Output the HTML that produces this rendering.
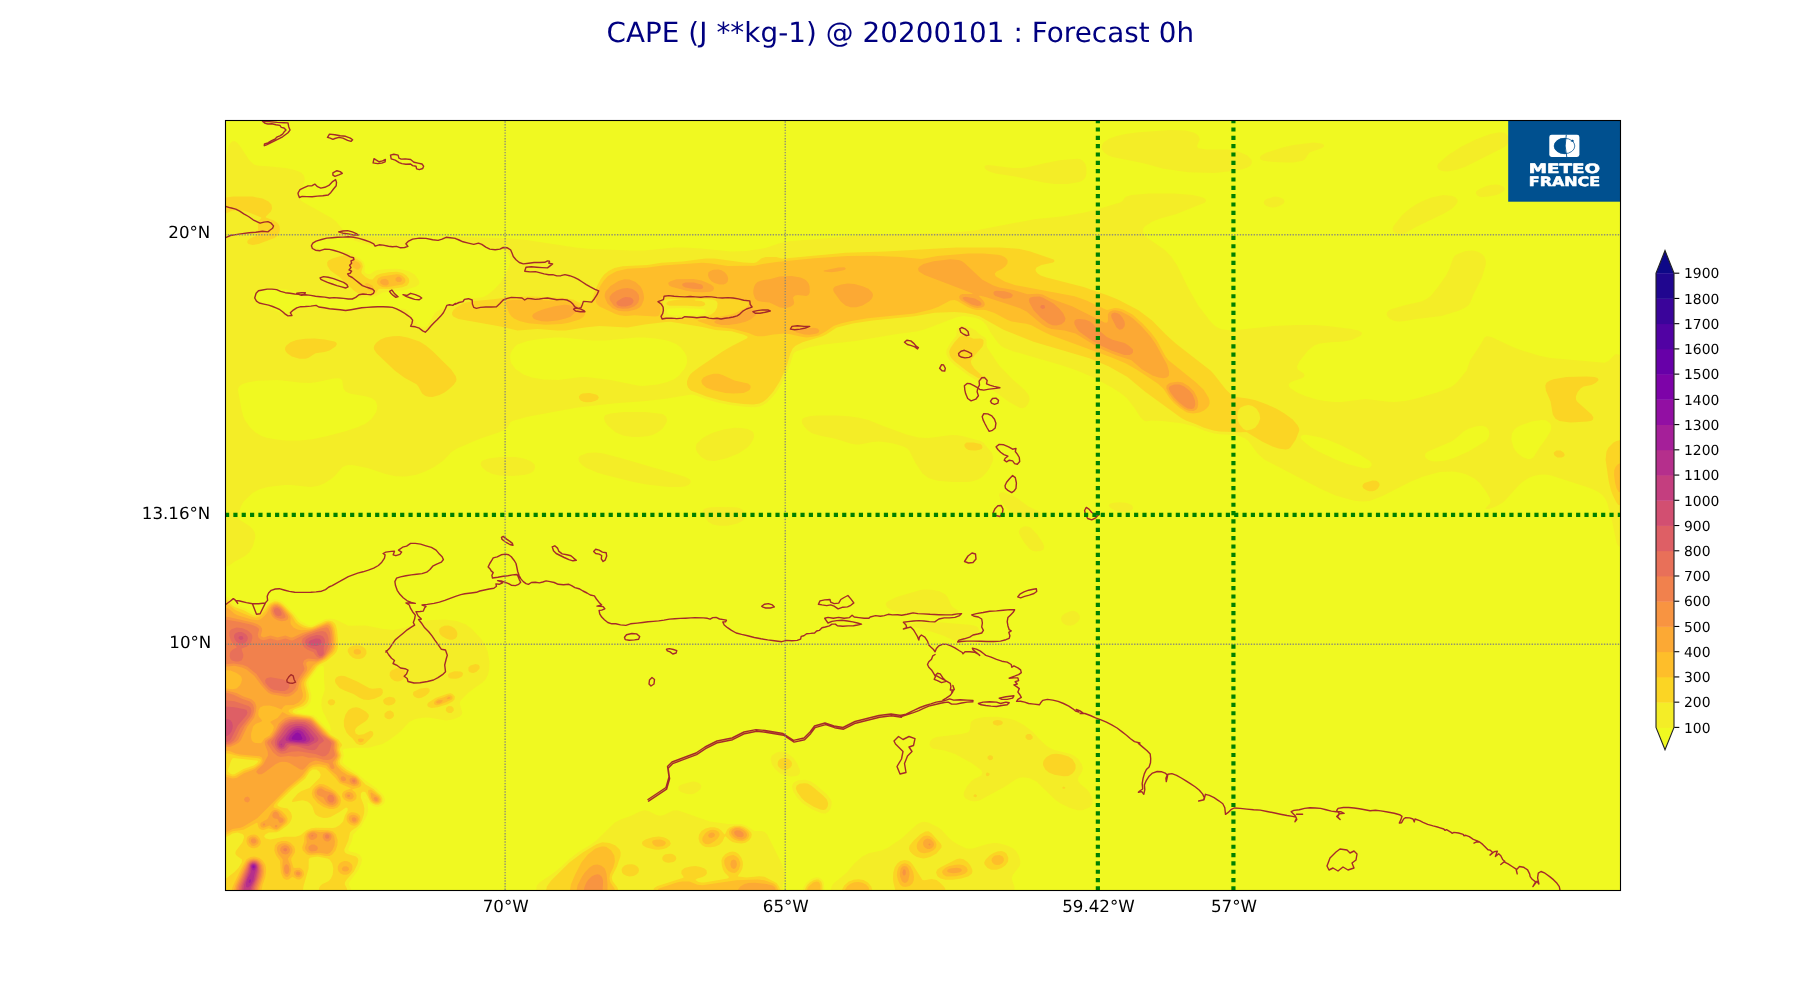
<!DOCTYPE html>
<html lang="en"><head><meta charset="utf-8"><title>CAPE Forecast</title>
<style>
html,body{margin:0;padding:0;background:#fff;}
body{width:1800px;height:1000px;overflow:hidden;}
svg{display:block;will-change:transform;}
text{font-family:"DejaVu Sans","Liberation Sans",sans-serif;fill:#000;text-rendering:geometricPrecision;}
.t12{font-size:16.67px;}
.t10{font-size:13.89px;}
.coast{fill:none;stroke:#a52a2a;stroke-width:1.4;stroke-linejoin:round;stroke-linecap:round;}
</style></head><body>
<svg width="1800" height="1000" viewBox="0 0 1800 1000">
<rect x="0" y="0" width="1800" height="1000" fill="#ffffff"/>
<text x="900.3" y="42" text-anchor="middle" style="font-size:27.78px;fill:#000080;letter-spacing:0.075px">CAPE (J **kg-1) @ 20200101 : Forecast 0h</text>
<defs><clipPath id="ax"><rect x="225" y="120" width="1395" height="770"/></clipPath></defs>
<rect x="225" y="120" width="1395" height="770" fill="#f0f921"/>
<g clip-path="url(#ax)">
<g id="field">
<path fill="#f4ed27" fill-rule="evenodd" d="M1101.4,146.5 1103.5,142.6 1108.5,139.1 1116.5,136.1 1125.5,134.1 1138.5,132.2 1170.5,130.1 1185.5,130.6 1193.5,132.4 1196.5,134.1 1198.9,136.5 1199.8,139.5 1197.1,145.5 1197.5,147.3 1198.5,148.2 1206.5,149.4 1227.5,149.5 1236.5,150.8 1247.5,155.6 1251.3,159.5 1252.0,162.5 1250.5,165.5 1247.5,167.6 1242.5,169.2 1232.5,171.0 1214.5,173.0 1188.5,172.3 1163.5,168.7 1143.5,163.2 1112.5,157.0 1108.5,155.4 1104.2,152.5 1101.8,149.5ZM1508.0,136.5 1508.8,139.5 1508.4,142.5 1506.5,145.5 1504.5,147.1 1465.5,166.7 1456.5,169.8 1447.5,171.4 1443.5,171.3 1440.5,170.5 1438.5,169.3 1437.5,167.7 1437.4,165.5 1438.5,163.5 1447.5,155.4 1461.5,146.4 1475.6,139.5 1490.5,134.1 1499.5,132.2 1504.5,132.8 1506.5,134.3ZM224.5,155.7 225.5,155.7 226.5,154.3 228.4,146.5 230.0,143.5 232.5,141.3 234.5,141.1 236.9,142.5 239.5,145.3 249.5,160.6 254.5,164.7 258.5,165.8 267.5,166.2 285.5,168.1 295.5,170.2 301.1,172.5 304.0,175.5 304.8,179.5 303.5,184.5 299.3,195.5 299.2,197.5 300.0,199.5 302.5,201.7 332.4,218.5 336.0,221.5 342.5,229.2 347.5,232.6 353.5,234.3 371.5,236.4 384.5,237.0 409.5,236.5 415.5,237.5 415.5,238.5 406.5,245.2 402.5,246.5 396.5,247.4 384.5,247.4 374.5,246.2 363.5,243.6 351.5,239.6 335.5,237.6 323.5,238.1 319.5,238.8 315.5,240.5 314.4,241.5 313.5,243.5 314.4,246.5 317.5,248.5 334.5,250.3 348.5,252.4 351.5,253.5 355.5,256.3 360.5,258.9 363.1,261.5 364.9,265.5 364.4,271.5 365.5,272.9 367.5,273.9 370.5,273.9 374.5,271.0 377.5,270.0 387.5,268.9 395.5,268.7 401.5,269.3 409.5,271.4 414.6,274.5 419.0,280.5 419.4,282.5 418.8,284.5 415.5,286.7 404.5,290.0 382.5,292.6 376.5,295.9 373.5,296.8 353.5,298.5 344.5,298.4 320.5,296.3 286.5,289.6 276.5,289.0 262.5,289.6 256.5,290.8 253.5,293.0 252.9,294.5 253.1,296.5 255.7,300.5 260.5,303.5 277.6,311.5 284.5,313.6 287.5,313.0 292.0,309.5 294.5,308.2 304.5,306.6 316.5,306.7 341.5,309.5 350.5,309.4 361.5,307.5 371.5,306.5 378.5,306.6 389.5,307.9 403.5,308.7 405.8,309.5 408.1,311.5 414.9,321.5 417.5,324.5 420.5,326.5 423.5,327.6 425.5,327.3 427.5,325.9 434.5,313.8 436.5,311.8 439.5,310.0 448.5,306.0 454.7,302.5 460.5,300.2 465.5,299.1 481.5,297.4 484.6,296.5 487.9,294.5 493.5,290.1 499.8,283.5 505.5,274.4 509.2,266.5 510.3,261.5 509.9,257.5 507.5,252.6 504.5,250.0 498.5,248.4 489.5,247.9 484.5,247.0 454.5,238.5 453.5,237.5 460.5,236.8 510.5,238.6 526.5,240.1 575.5,247.4 590.5,248.9 631.5,250.5 644.5,250.5 674.5,247.6 683.5,247.5 701.5,248.6 730.5,251.4 746.5,250.9 765.5,247.9 779.5,243.2 790.5,241.1 821.5,238.8 860.5,235.1 939.5,232.9 961.5,231.9 976.5,230.2 1034.5,219.2 1063.5,216.2 1084.5,212.6 1097.5,209.3 1120.1,202.5 1122.5,201.1 1124.5,198.0 1126.2,196.5 1131.5,195.1 1149.5,193.5 1173.5,193.5 1192.5,195.1 1199.5,196.4 1203.5,197.7 1205.9,199.5 1205.8,201.5 1204.5,202.7 1176.5,214.0 1159.5,218.8 1152.5,221.6 1144.7,226.5 1143.3,228.5 1142.9,231.5 1144.0,234.5 1146.5,237.3 1164.5,249.7 1171.3,256.5 1177.2,265.5 1187.5,286.4 1198.2,305.5 1210.5,321.5 1214.5,325.6 1217.5,327.6 1221.5,329.2 1231.5,330.5 1272.5,326.1 1297.5,325.0 1314.5,325.1 1329.5,326.2 1351.5,328.9 1358.6,330.5 1361.8,332.5 1361.7,334.5 1360.5,335.8 1351.5,339.9 1343.5,341.4 1330.5,342.2 1319.5,343.5 1314.3,345.5 1308.0,350.5 1299.3,361.5 1297.0,366.5 1297.7,369.5 1303.8,373.5 1304.5,375.5 1304.2,376.5 1302.5,377.9 1291.5,381.8 1289.5,383.2 1288.7,384.5 1288.9,386.5 1290.8,388.5 1297.5,392.7 1304.5,395.7 1316.5,399.4 1324.5,400.9 1334.5,401.9 1341.5,401.9 1365.5,399.1 1388.5,401.8 1394.5,402.0 1404.5,401.0 1413.5,399.3 1436.5,392.7 1450.5,387.2 1454.5,384.5 1457.6,381.5 1466.6,370.5 1470.0,360.5 1480.5,344.5 1484.5,337.4 1486.5,336.3 1489.5,336.5 1492.5,337.4 1511.7,346.5 1520.5,350.0 1539.5,355.7 1550.5,357.9 1604.5,362.7 1608.5,361.0 1614.9,354.5 1616.5,354.1 1620.5,355.1 1620.5,546.5 1618.5,546.2 1616.8,543.5 1611.7,519.5 1607.4,503.5 1605.6,499.5 1602.5,495.3 1598.5,492.1 1590.5,488.3 1550.5,475.3 1544.5,474.6 1539.5,474.8 1533.5,476.0 1528.5,478.1 1523.5,481.2 1519.5,484.4 1505.5,500.1 1502.5,502.8 1495.5,506.8 1488.5,509.0 1486.5,509.1 1485.3,508.5 1489.9,503.5 1490.5,501.5 1490.0,498.5 1485.5,490.8 1479.5,482.8 1474.5,478.5 1466.5,474.5 1461.5,473.0 1453.5,471.6 1439.5,472.0 1422.5,476.7 1410.5,481.8 1382.5,495.9 1369.5,500.9 1362.5,501.5 1354.5,500.7 1335.5,495.5 1320.5,488.7 1264.5,459.7 1257.5,453.5 1248.5,441.1 1245.1,438.5 1240.9,436.5 1234.5,434.9 1219.5,434.3 1213.5,433.3 1204.5,430.8 1194.5,426.5 1181.5,423.2 1162.5,421.1 1151.5,420.6 1146.5,421.3 1144.5,420.9 1140.5,417.5 1134.8,408.5 1127.2,398.5 1120.5,392.9 1111.5,387.2 1092.5,377.0 1075.5,370.1 1061.5,365.3 1013.5,351.4 1004.5,348.0 1000.6,345.5 998.5,343.4 991.2,333.5 985.9,324.5 983.2,321.5 979.9,319.5 974.5,317.5 963.5,316.0 956.5,317.2 932.5,326.6 923.5,329.7 916.5,331.5 895.5,334.3 855.5,340.9 823.5,344.4 810.5,347.0 796.5,351.3 794.5,352.4 793.0,354.5 790.1,364.5 787.0,372.5 781.7,383.5 776.1,392.5 770.1,399.5 766.5,402.9 762.5,405.2 758.5,406.7 754.5,407.3 744.5,406.8 730.5,405.1 716.5,402.2 705.5,399.0 695.5,395.3 691.5,394.6 665.5,398.7 643.5,401.3 615.5,403.2 577.5,407.4 527.5,416.8 512.5,420.9 510.2,422.5 507.5,427.6 504.5,430.1 498.5,432.6 480.5,438.5 457.5,448.3 451.5,452.0 443.5,460.6 434.5,466.8 425.3,471.5 415.5,474.9 405.5,476.4 395.5,476.2 385.5,473.9 367.5,468.0 353.5,465.3 348.5,465.1 345.5,465.7 342.5,467.1 335.2,475.5 331.5,478.8 324.2,483.5 318.5,485.7 310.5,486.9 291.5,485.1 284.5,485.1 267.5,487.0 259.5,489.3 252.5,493.0 243.7,501.5 240.9,506.5 237.9,515.5 237.9,517.5 239.2,519.5 249.5,526.1 252.1,528.5 254.2,531.5 255.2,534.5 255.3,537.5 252.8,546.5 249.5,551.9 245.5,555.8 234.5,561.7 228.5,566.0 224.5,566.6ZM377.2,405.5 375.5,400.8 371.5,398.0 365.5,396.3 350.5,393.7 345.5,391.6 343.4,388.5 342.2,380.5 340.5,378.8 338.5,378.2 333.5,378.4 317.5,382.1 310.5,383.0 301.5,382.8 277.5,380.1 257.5,380.7 247.5,382.6 242.5,384.1 239.1,386.5 237.9,389.5 241.5,409.5 243.3,416.5 245.2,420.5 250.1,427.5 255.6,432.5 261.5,436.0 267.5,437.9 278.5,439.8 286.5,440.5 299.5,440.5 312.5,439.2 327.5,436.0 344.5,431.5 357.5,427.3 365.8,423.5 371.5,418.9 375.9,412.5 376.9,409.5ZM510.1,356.5 510.4,360.5 511.4,363.5 515.5,369.1 523.6,374.5 531.8,377.5 543.5,379.4 558.5,380.0 580.5,377.1 586.5,377.1 610.5,380.1 637.5,385.4 642.5,386.0 657.5,384.5 667.5,382.1 674.5,378.9 679.0,375.5 684.5,368.8 686.5,364.6 687.2,360.5 686.6,356.5 684.7,352.5 680.5,347.3 676.5,344.3 669.5,341.3 664.5,340.0 655.5,338.4 644.5,337.5 636.5,337.6 605.5,340.5 592.5,340.4 562.5,337.5 554.5,337.6 539.5,338.9 527.5,341.0 517.5,344.6 514.5,347.0 512.0,350.5 510.5,353.5ZM666.8,311.5 667.7,313.5 669.5,314.7 672.9,315.5 691.5,315.6 700.5,314.8 704.5,313.5 705.8,311.5 704.6,309.5 702.5,308.9 681.5,307.9 668.8,308.5 667.3,309.5ZM1300.8,436.5 1300.6,437.5 1301.5,439.5 1310.5,447.0 1318.5,451.5 1335.5,459.6 1346.5,463.7 1363.5,468.2 1368.5,468.1 1370.5,467.1 1371.6,465.5 1371.6,463.5 1370.3,461.5 1361.2,455.5 1341.5,445.5 1328.5,439.9 1320.5,437.4 1306.5,434.8 1302.5,434.9ZM1488.8,430.5 1486.5,427.3 1482.5,425.7 1476.5,426.3 1468.5,428.7 1463.6,431.5 1456.5,437.9 1451.5,441.4 1427.5,451.8 1425.5,453.5 1424.9,456.5 1426.4,458.5 1428.5,459.9 1431.5,460.9 1435.5,461.5 1444.5,460.7 1454.5,457.7 1468.4,451.5 1485.5,441.2 1487.5,439.2 1488.9,436.5 1489.4,433.5ZM1547.5,421.2 1545.5,420.3 1541.5,420.0 1532.5,421.3 1521.5,425.1 1517.5,427.1 1514.4,429.5 1511.9,433.5 1511.3,439.5 1513.6,447.5 1515.3,450.5 1518.0,453.5 1522.5,456.9 1527.5,459.1 1530.5,459.1 1533.3,457.5 1539.5,447.5 1546.8,437.5 1550.8,430.5 1551.3,427.5 1551.1,425.5 1550.1,423.5ZM1324.1,145.5 1323.5,146.9 1321.5,148.2 1309.5,152.5 1304.7,159.5 1302.5,160.7 1293.5,162.4 1285.5,162.5 1268.5,161.6 1262.5,160.6 1260.6,159.5 1260.0,158.5 1260.3,156.5 1261.2,155.5 1266.5,152.6 1283.5,147.3 1293.5,145.0 1313.5,142.5 1321.5,143.6 1323.5,144.5ZM1086.4,173.5 1085.8,176.5 1084.5,178.7 1082.5,180.6 1079.5,182.1 1067.5,183.9 1054.5,183.9 1043.5,182.6 1018.5,177.2 995.5,173.6 990.5,171.9 986.5,169.9 984.9,168.5 984.4,166.5 985.5,165.5 988.5,165.1 1012.5,167.9 1021.5,167.9 1029.5,166.8 1043.5,163.4 1059.5,160.3 1077.5,158.7 1080.5,159.3 1082.5,160.4 1085.1,163.5 1086.4,167.5ZM1475.9,193.5 1476.2,191.5 1478.5,189.4 1486.5,186.1 1490.5,185.1 1495.5,184.6 1499.5,185.1 1503.0,186.5 1504.9,188.5 1504.5,190.6 1500.5,193.2 1496.5,194.9 1488.5,196.6 1482.5,197.1 1479.5,196.8 1477.2,195.5ZM1457.4,199.5 1457.6,201.5 1456.8,203.5 1453.5,207.2 1450.5,209.7 1443.5,213.7 1415.5,227.3 1405.5,233.0 1401.5,234.2 1398.5,234.1 1395.5,233.3 1393.2,231.5 1392.6,228.5 1393.5,225.9 1401.8,215.5 1408.5,209.4 1415.8,204.5 1421.5,201.5 1431.5,197.4 1443.5,195.1 1452.5,196.1 1455.5,197.4ZM1263.6,202.5 1264.5,200.5 1266.5,199.1 1274.5,196.6 1278.5,197.1 1282.5,198.5 1283.8,199.5 1284.6,201.5 1283.5,203.5 1280.5,205.5 1276.5,207.1 1273.5,207.4 1269.5,207.1 1266.5,205.9 1264.5,204.4ZM1484.2,256.5 1485.8,260.5 1485.8,264.5 1482.0,277.5 1473.5,294.5 1470.4,302.5 1468.5,305.3 1465.5,307.6 1458.5,310.7 1441.5,316.0 1416.5,318.9 1403.5,321.3 1397.5,321.5 1393.5,320.7 1389.5,318.5 1387.5,316.3 1386.7,314.5 1386.9,312.5 1388.5,310.7 1390.5,309.6 1403.5,305.4 1421.5,301.5 1426.5,299.1 1430.5,296.3 1438.5,286.3 1446.5,274.7 1449.5,268.5 1452.9,258.5 1454.5,256.1 1456.5,254.4 1465.5,251.1 1472.5,250.6 1476.5,251.2 1479.5,252.4 1482.5,254.5ZM958.5,326.8 960.5,325.9 963.5,325.9 970.5,327.8 975.5,330.3 979.8,334.5 985.5,337.9 986.6,340.5 986.5,345.5 987.2,347.5 999.1,365.5 1013.5,380.2 1024.2,389.5 1028.3,394.5 1029.5,397.5 1029.5,400.5 1027.7,404.5 1025.5,407.1 1022.5,408.3 1019.5,407.8 1008.5,401.6 994.6,391.5 985.5,383.0 977.5,380.9 968.5,375.6 954.5,365.1 949.8,360.5 946.8,355.5 946.3,352.5 946.7,349.5 950.8,342.5 956.5,335.5 956.9,329.5ZM603.9,418.5 604.3,416.5 605.5,415.1 610.5,413.4 623.5,412.0 645.5,412.0 662.5,414.1 666.0,416.5 667.1,419.5 666.5,422.5 663.4,427.5 660.5,430.6 656.5,433.1 652.5,434.9 648.5,435.9 639.5,436.9 632.5,437.0 623.5,435.7 615.5,432.3 607.6,425.5 604.9,421.5ZM801.7,420.5 802.9,418.5 804.5,417.4 810.5,416.1 817.5,415.5 836.5,415.5 848.5,416.2 857.5,417.5 868.5,420.1 882.5,425.8 906.5,434.5 918.5,437.5 928.5,437.9 951.5,435.1 957.5,435.2 962.5,436.1 980.5,441.0 983.2,442.5 991.6,452.5 993.1,456.5 993.0,460.5 989.9,467.5 986.5,472.4 981.5,477.5 977.5,479.7 971.5,481.4 966.5,482.0 952.5,482.0 937.5,480.7 928.5,477.9 922.5,473.5 915.2,462.5 909.5,451.0 907.2,448.5 903.5,446.4 892.5,443.3 879.5,441.6 872.5,441.9 859.5,444.4 855.5,444.4 850.5,443.6 833.5,438.3 822.5,436.2 812.5,433.4 808.5,431.0 804.9,427.5 802.2,423.5ZM753.8,433.5 754.1,436.5 753.2,439.5 750.5,444.1 747.5,447.4 738.5,453.5 726.5,458.2 714.5,460.9 707.5,460.4 703.5,458.6 700.8,456.5 697.4,452.5 696.0,449.5 695.8,446.5 696.8,443.5 702.5,438.3 706.5,435.8 713.5,432.6 723.5,429.5 734.5,427.7 741.5,427.9 747.5,429.1 750.5,430.2 752.5,431.6ZM578.3,458.5 579.4,456.5 580.7,455.5 587.5,453.1 595.5,452.5 602.5,453.3 621.5,458.2 682.5,475.9 686.6,477.5 689.5,479.3 690.5,480.5 690.7,482.5 688.5,485.1 684.5,486.4 680.5,486.9 668.5,487.0 646.5,484.4 633.5,481.9 606.5,475.3 597.5,472.8 586.5,468.1 582.5,465.5 579.1,461.5ZM480.7,463.5 481.5,461.6 482.8,460.5 488.5,458.6 499.5,457.1 515.5,457.1 523.5,458.4 530.5,461.1 534.5,464.5 535.1,467.5 534.0,470.5 532.5,472.1 529.5,473.6 525.5,474.7 512.5,476.0 499.5,475.4 492.5,474.1 486.5,471.3 482.3,467.5 481.1,465.5ZM999.4,493.5 1000.5,492.4 1003.5,492.2 1013.5,496.1 1019.1,499.5 1028.5,506.5 1038.9,511.5 1040.5,513.5 1040.4,515.5 1038.9,517.5 1036.5,518.9 1030.5,519.3 1022.9,517.5 1012.5,512.9 1007.5,509.5 1004.0,505.5 1000.0,498.5 999.1,495.5ZM1108.7,505.5 1109.5,504.0 1112.5,502.9 1118.5,502.2 1125.5,502.7 1128.5,503.5 1131.5,505.1 1132.7,506.5 1133.1,508.5 1131.5,510.2 1128.5,511.2 1124.5,511.9 1119.5,511.8 1115.5,510.7 1111.5,508.6 1109.5,507.0ZM702.5,511.5 703.5,509.6 704.5,508.8 708.5,507.6 716.5,507.0 735.5,507.2 739.5,508.1 742.5,509.7 744.6,512.5 745.2,516.5 744.6,518.5 743.0,520.5 737.5,523.5 727.5,525.8 719.5,525.8 712.9,524.5 708.5,521.9 703.6,515.5ZM1020.3,528.5 1023.5,526.6 1026.5,526.2 1029.5,527.0 1031.6,528.5 1037.3,534.5 1042.6,542.5 1044.3,546.5 1043.5,549.5 1040.5,551.1 1035.5,551.4 1032.5,550.7 1029.1,548.5 1024.5,542.9 1019.5,534.5 1018.8,531.5ZM885.7,604.5 886.4,602.5 887.5,601.5 896.5,597.1 920.5,590.1 924.5,589.6 931.5,589.7 939.5,591.3 945.5,594.5 947.9,597.5 951.3,605.5 953.4,607.5 957.5,610.1 958.5,611.5 958.3,612.5 956.5,613.9 947.5,615.5 938.5,615.4 903.5,613.3 896.5,612.1 891.5,610.0 887.3,607.5ZM224.5,596.6 226.5,596.7 228.5,597.8 234.8,604.5 244.5,607.9 252.5,612.6 255.5,613.5 257.5,613.0 260.0,611.5 266.8,603.5 270.5,600.6 274.5,599.2 278.5,599.8 282.5,601.8 286.5,605.3 294.4,613.5 300.5,620.9 307.0,624.5 310.5,625.4 314.4,624.5 325.5,619.1 330.5,618.6 335.5,619.6 348.5,625.7 365.5,625.6 383.5,628.9 393.5,629.9 405.5,627.6 419.5,622.1 429.5,620.2 444.5,619.5 456.5,620.9 465.5,624.3 471.5,628.4 480.8,638.5 485.8,646.5 488.0,652.5 489.4,661.5 489.3,669.5 487.7,675.5 485.5,679.4 482.6,682.5 474.5,688.0 467.5,693.5 460.7,700.5 459.9,702.5 459.8,704.5 462.3,712.5 461.7,714.5 459.5,716.8 453.5,719.3 446.5,720.4 428.5,717.6 422.5,717.7 415.5,719.0 409.5,721.8 401.4,730.5 396.5,734.7 388.5,740.5 382.5,743.9 368.5,747.8 355.5,747.7 345.5,748.6 343.1,749.5 342.7,750.5 343.9,755.5 342.3,761.5 343.3,763.5 346.8,766.5 358.5,774.2 365.5,780.5 376.5,788.3 382.7,794.5 384.0,796.5 385.0,799.5 384.5,802.5 382.9,804.5 380.5,806.1 377.5,807.0 373.5,806.2 367.5,802.3 368.2,810.5 367.0,815.5 361.1,826.5 353.2,834.5 351.7,841.5 348.4,848.5 348.5,850.4 350.0,851.5 356.5,853.0 359.3,854.5 361.6,857.5 362.0,860.5 360.9,864.5 358.0,870.5 349.0,882.5 348.7,884.5 350.8,888.5 351.0,890.5 224.5,890.5ZM322.5,665.4 320.0,666.5 317.5,669.0 310.5,678.5 308.5,682.1 308.5,685.1 311.3,694.5 311.2,699.5 310.2,702.5 308.1,705.5 305.5,707.7 302.5,709.3 297.8,710.5 296.7,711.5 297.9,712.5 301.7,713.5 313.5,715.2 316.4,717.5 327.5,728.9 330.5,731.1 331.2,730.5 330.0,725.5 322.8,711.5 321.3,705.5 321.7,699.5 324.8,689.5 324.1,680.5 323.9,667.5 323.5,666.0ZM364.5,796.6 364.5,797.7 365.5,799.2 365.5,797.3ZM1074.5,611.0 1077.5,612.5 1079.7,615.5 1079.9,618.5 1078.1,621.5 1074.5,624.5 1070.5,625.8 1066.5,625.3 1063.3,623.5 1061.7,621.5 1061.1,619.5 1061.2,617.5 1062.3,615.5 1064.5,613.8 1069.5,611.4 1072.5,610.8ZM910.2,624.5 912.5,623.4 923.5,622.5 941.5,622.5 969.5,624.8 975.5,625.9 978.1,627.5 979.1,630.5 977.5,634.1 973.5,637.2 962.5,640.6 956.5,640.9 953.5,640.2 943.5,635.8 932.5,632.1 912.7,626.5 910.6,625.5ZM929.8,742.5 930.8,740.5 932.5,738.8 936.5,737.0 961.5,734.0 967.5,732.6 968.9,731.5 970.0,729.5 970.5,723.5 971.3,721.5 973.5,719.7 977.5,718.2 985.5,717.1 997.5,716.7 1010.5,719.0 1015.5,720.5 1023.5,724.8 1032.5,731.5 1039.8,739.5 1045.5,744.9 1049.5,747.7 1053.5,749.7 1070.5,753.9 1074.5,755.9 1078.5,759.3 1081.9,764.5 1082.9,768.5 1082.1,771.5 1078.2,777.5 1078.0,780.5 1079.9,783.5 1087.0,789.5 1089.4,792.5 1092.2,798.5 1092.7,801.5 1092.4,803.5 1091.4,805.5 1089.3,807.5 1082.5,810.2 1077.5,810.2 1069.5,807.8 1060.7,803.5 1055.5,799.9 1036.4,781.5 1029.5,778.3 1023.5,777.3 1020.5,777.6 1016.5,779.1 1005.2,786.5 979.5,800.4 974.5,801.6 969.5,800.6 965.7,798.5 964.0,796.5 963.6,794.5 964.2,791.5 966.9,786.5 971.5,780.9 974.5,778.7 980.5,776.0 981.5,775.0 982.2,772.5 981.6,770.5 971.5,763.0 954.5,753.8 944.5,750.4 933.5,748.7 931.5,747.8 929.7,745.5ZM772.0,755.5 776.5,752.6 780.5,751.6 784.5,752.0 788.5,754.0 793.5,758.1 797.2,763.5 799.7,769.5 800.0,771.5 799.5,773.8 798.5,775.0 796.5,776.0 790.5,776.5 784.5,775.4 779.5,772.9 774.5,768.6 772.0,764.5 770.7,759.5 771.0,757.5ZM793.1,783.5 795.5,781.6 798.5,780.3 805.5,779.7 810.5,781.2 816.5,785.2 826.5,793.9 830.9,799.5 831.7,802.5 831.5,805.5 830.6,808.5 828.8,811.5 825.5,813.6 821.5,813.2 811.5,809.0 802.5,803.2 797.1,797.5 793.3,791.5 792.0,786.5ZM678.2,788.5 678.7,786.5 681.5,784.4 692.5,781.6 695.5,781.7 698.5,782.8 700.7,784.5 701.4,786.5 700.5,788.9 697.9,791.5 694.5,793.5 691.5,794.3 687.5,794.1 681.5,792.3 679.0,790.5ZM536.9,885.5 539.5,882.5 554.3,872.5 562.6,865.5 568.5,859.7 578.5,852.1 590.9,844.5 596.3,840.5 614.5,822.7 620.5,819.4 630.5,815.9 640.5,811.2 644.5,810.3 648.5,811.0 656.5,814.9 660.5,815.7 664.5,814.7 672.5,810.8 675.5,810.3 678.5,810.5 709.7,821.5 727.5,823.9 741.5,824.0 746.5,825.8 754.5,830.9 761.5,831.1 764.5,831.8 767.2,834.5 781.7,863.5 783.5,868.5 785.0,876.5 784.6,879.5 782.6,885.5 783.5,890.5 536.1,890.5ZM831.6,886.5 833.6,883.5 846.5,872.7 854.3,863.5 861.5,856.9 868.5,853.3 881.5,850.4 887.5,847.9 901.5,838.5 916.5,824.8 920.5,822.6 923.5,821.8 928.5,822.6 938.5,827.6 941.5,829.7 948.5,837.5 953.5,841.7 958.5,844.7 966.5,848.4 969.5,848.8 973.5,848.3 986.5,844.3 993.5,843.1 998.5,843.3 1006.5,845.3 1012.5,848.1 1015.6,850.5 1018.8,855.5 1020.2,860.5 1020.3,863.5 1019.4,866.5 1013.1,874.5 1011.8,877.5 1012.2,880.5 1014.4,886.5 1014.5,890.5 830.9,890.5ZM823.8,882.5 824.4,890.5 802.9,890.5 803.4,887.5 805.9,883.5 809.5,880.3 813.5,878.0 816.5,877.3 819.5,877.8 822.0,879.5Z"/>
<path fill="#fbd524" fill-rule="evenodd" d="M224.5,197.7 233.5,196.5 252.5,196.6 262.5,198.5 268.5,201.4 271.4,204.5 272.1,208.5 270.9,211.5 265.8,216.5 265.8,217.5 273.9,220.5 276.9,222.5 278.7,224.5 279.6,226.5 279.9,229.5 279.4,232.5 277.8,235.5 274.5,238.0 258.5,244.1 252.5,245.0 248.5,244.1 247.2,242.5 247.6,240.5 250.0,238.5 255.5,236.0 257.7,233.5 258.1,231.5 257.9,222.5 259.0,220.5 261.1,218.5 261.4,217.5 246.5,211.5 241.5,210.2 232.5,210.5 226.5,213.2 224.5,213.4ZM1299.3,430.5 1295.8,439.5 1290.4,447.5 1288.5,449.0 1285.5,449.4 1278.5,448.4 1272.5,446.4 1262.5,441.7 1246.5,432.0 1240.5,432.2 1219.3,431.5 1213.5,430.5 1203.5,427.5 1195.5,423.9 1185.9,420.5 1180.6,417.5 1144.5,391.3 1127.5,377.1 1108.5,366.3 1089.5,358.3 1033.5,341.8 1003.5,329.7 979.5,316.3 972.5,314.2 964.5,312.7 954.5,312.0 934.5,312.7 914.5,316.3 872.4,320.5 852.7,323.5 836.8,327.5 826.5,334.2 822.5,336.2 802.5,342.3 795.5,345.8 792.7,348.5 790.3,353.5 787.5,363.5 784.5,371.3 779.5,381.8 773.4,391.5 767.5,398.3 763.6,401.5 759.5,403.5 753.5,404.5 743.5,404.0 731.5,402.5 721.2,400.5 706.6,396.5 690.9,390.5 688.1,387.5 687.0,384.5 687.0,381.5 688.4,377.5 690.2,374.5 692.5,372.2 699.5,366.9 722.5,351.6 731.5,346.3 746.7,338.5 747.6,337.5 747.6,336.5 743.1,334.5 731.5,331.3 715.5,330.1 702.5,327.1 670.5,321.8 665.5,322.0 644.5,324.6 627.5,327.4 599.5,326.0 586.5,327.3 565.5,330.4 557.5,330.4 537.5,329.0 517.5,330.4 500.5,326.5 458.5,319.0 453.3,316.5 452.1,314.5 452.1,312.5 453.5,309.9 456.2,307.5 462.5,303.8 466.1,302.5 472.5,301.3 493.5,299.3 511.5,296.7 532.5,296.6 564.5,298.0 573.5,299.8 581.5,303.8 585.5,304.0 589.5,302.1 592.3,299.5 594.6,291.5 598.3,283.5 601.1,278.5 604.2,274.5 608.5,271.1 614.5,268.1 622.5,266.2 647.5,264.9 661.5,262.8 682.7,261.5 705.5,258.5 714.5,258.6 743.5,262.6 753.5,262.9 756.5,262.2 761.5,258.3 765.5,257.1 776.5,257.1 781.4,258.5 784.5,258.6 845.5,252.7 885.5,251.4 956.5,247.5 999.5,247.5 1018.5,248.8 1029.5,251.2 1053.6,259.5 1054.4,260.5 1054.3,261.5 1053.1,262.5 1041.5,265.1 1036.5,267.5 1035.5,269.5 1036.0,271.5 1037.7,273.5 1040.7,275.5 1046.5,277.6 1083.5,287.0 1106.5,295.0 1117.9,299.5 1138.5,310.2 1152.1,320.5 1165.8,334.5 1175.7,343.5 1210.5,370.6 1213.3,373.5 1225.9,389.5 1231.1,394.5 1236.5,397.0 1247.5,398.4 1255.5,400.3 1266.5,404.2 1276.5,408.8 1284.5,413.5 1292.7,419.5 1297.7,425.5 1299.1,428.5ZM1248.5,405.1 1244.5,405.7 1240.5,407.6 1238.2,410.5 1237.2,414.5 1237.9,420.5 1239.6,424.5 1243.5,429.0 1246.5,430.5 1251.5,429.6 1255.3,427.5 1258.5,423.3 1260.2,418.5 1259.4,413.5 1256.5,408.7 1252.5,405.9ZM662.9,314.5 663.9,316.5 665.5,317.6 673.5,318.8 681.5,318.7 706.5,316.2 711.2,314.5 715.0,311.5 717.1,307.5 717.6,303.5 716.8,301.5 715.6,300.5 712.5,299.5 706.5,299.1 694.5,299.5 695.1,300.5 701.5,301.0 704.5,302.4 705.3,304.5 703.5,306.0 699.5,306.4 687.5,305.7 669.5,305.7 667.5,305.1 666.6,304.5 666.3,303.5 666.8,302.5 668.5,301.3 673.5,300.3 683.5,299.5 671.5,298.9 665.5,299.4 663.5,300.3 662.8,301.5 663.3,306.5ZM327.1,262.5 328.5,260.4 332.5,258.5 342.7,255.5 348.5,255.3 357.5,259.4 360.5,261.5 362.0,263.5 362.9,266.5 361.3,271.5 361.7,273.5 365.5,277.0 369.5,279.3 372.5,279.6 376.3,275.5 380.5,273.7 388.5,272.2 396.5,271.8 402.5,273.1 406.4,275.5 408.8,278.5 409.3,280.5 409.1,282.5 407.1,285.5 402.5,287.3 390.5,289.1 379.5,288.8 378.2,289.5 376.4,292.5 373.5,294.2 367.5,294.7 360.5,293.9 357.5,292.9 353.8,290.5 339.5,276.9 330.5,270.5 327.5,266.1ZM961.5,335.4 965.5,335.5 973.5,338.7 980.5,338.6 982.5,339.3 983.5,340.4 983.5,343.4 982.5,346.5 972.0,358.5 970.8,361.5 971.6,364.5 974.3,368.5 982.8,376.5 983.1,377.5 982.5,378.6 980.5,378.8 978.5,378.2 968.8,372.5 954.6,361.5 951.7,358.5 949.8,355.5 949.2,351.5 950.5,348.0 954.3,342.5 959.5,336.8ZM374.3,345.5 376.5,342.4 380.6,339.5 385.5,337.6 392.5,336.2 399.5,336.1 407.5,337.4 419.5,341.4 425.9,345.5 432.5,350.9 451.2,369.5 455.9,376.5 456.5,379.5 456.0,381.5 453.5,385.1 448.5,389.5 444.5,392.4 439.5,395.0 432.5,396.9 428.5,396.7 425.5,395.9 422.1,393.5 418.4,386.5 416.5,384.2 404.5,377.8 394.7,370.5 376.8,353.5 374.1,349.5 373.8,347.5ZM285.0,349.5 285.2,347.5 286.4,345.5 290.5,342.3 296.5,340.1 305.5,338.7 314.5,338.6 324.5,339.4 334.5,341.5 336.2,342.5 336.7,343.5 336.7,344.5 335.5,346.5 329.5,350.5 324.5,352.1 315.5,353.3 308.5,357.7 305.5,358.8 299.5,358.7 291.9,356.5 287.5,353.5 285.8,351.5ZM1546.5,382.8 1549.5,380.7 1553.5,379.3 1566.5,377.1 1586.5,376.5 1594.5,377.1 1597.5,378.1 1598.4,379.5 1598.3,380.5 1595.5,383.1 1591.5,384.9 1583.5,386.6 1580.5,388.5 1577.4,392.5 1575.9,396.5 1576.0,399.5 1577.0,401.5 1591.6,414.5 1593.4,417.5 1593.0,419.5 1591.5,420.7 1587.5,421.6 1570.5,422.5 1559.5,420.9 1555.5,418.8 1552.8,414.5 1550.6,401.5 1545.9,390.5 1545.3,385.5ZM578.9,396.5 580.4,394.5 582.5,393.6 589.5,393.0 596.0,394.5 597.7,395.5 598.9,397.5 597.8,399.5 595.5,400.7 591.5,401.9 586.5,402.3 583.5,401.8 580.8,400.5 579.2,398.5ZM1620.5,440.2 1620.5,505.3 1618.5,504.9 1616.5,502.4 1613.5,496.8 1611.0,490.5 1608.6,480.5 1605.6,459.5 1606.5,451.5 1608.5,447.4 1613.5,442.5 1616.5,440.9ZM964.4,444.5 966.5,442.5 973.5,442.4 980.5,444.1 982.0,445.5 982.5,447.5 981.5,448.9 979.5,449.8 975.5,450.4 970.5,450.3 968.5,449.9 966.1,448.5 964.6,446.5ZM1553.9,452.5 1556.5,450.5 1560.5,450.5 1563.5,452.5 1564.6,454.5 1564.5,455.5 1563.5,456.7 1561.5,457.6 1557.5,457.5 1554.5,455.5 1553.7,453.5ZM1379.4,483.5 1379.6,485.5 1377.8,488.5 1375.5,490.2 1372.5,491.2 1369.5,491.2 1366.5,490.3 1363.5,488.5 1362.4,486.5 1363.0,484.5 1364.5,483.1 1372.5,480.4 1376.5,480.8 1378.5,482.2ZM224.5,599.4 227.5,600.3 232.4,605.5 234.5,607.0 244.3,610.5 252.5,615.0 255.5,615.7 258.5,615.1 261.5,613.0 268.5,604.6 270.5,602.9 274.5,601.2 277.5,601.5 280.5,602.7 283.5,604.9 292.7,614.5 297.5,621.2 300.5,623.7 304.5,625.8 308.5,627.1 312.5,626.9 325.5,621.1 328.5,620.5 332.5,621.6 334.7,623.5 335.9,625.5 337.1,630.5 338.3,642.5 337.9,647.5 336.6,651.5 334.5,654.3 326.5,661.0 319.5,664.5 317.1,666.5 307.4,679.5 306.2,682.5 306.3,685.5 308.8,694.5 308.8,698.5 307.8,701.5 306.5,703.5 303.5,706.1 294.5,709.3 292.9,710.5 292.5,711.5 293.0,712.5 295.5,713.7 310.5,716.1 313.5,717.4 330.5,734.8 338.3,739.5 342.0,744.5 342.0,745.5 340.5,747.5 339.8,749.5 341.5,755.5 339.5,761.5 340.5,764.5 346.4,769.5 357.5,775.8 365.5,784.4 373.5,789.0 380.8,795.5 382.4,798.5 382.3,801.5 380.7,803.5 378.5,804.7 375.5,804.8 372.5,803.5 370.2,801.5 365.5,792.3 364.5,791.7 362.5,791.8 360.8,793.5 360.8,797.5 363.5,804.4 364.4,808.5 364.1,813.5 361.9,820.5 359.7,824.5 357.5,826.8 351.7,830.5 350.0,832.5 348.3,840.5 344.3,849.5 344.5,851.5 345.5,852.9 347.5,854.1 356.0,856.5 357.9,858.5 358.3,860.5 357.5,863.9 353.9,871.5 346.7,879.5 344.9,882.5 344.8,884.5 346.9,888.5 347.1,890.5 318.7,890.5 319.3,887.5 320.6,885.5 322.5,884.0 328.5,881.2 331.0,878.5 332.7,874.5 333.3,868.5 332.2,863.5 329.6,859.5 327.5,858.5 317.5,856.5 310.8,857.5 309.2,858.5 308.7,859.5 308.6,868.5 303.4,886.5 303.0,890.5 224.5,890.5 224.5,878.6 226.5,878.2 234.5,872.1 238.5,867.8 241.8,862.5 242.0,859.5 236.5,855.4 235.5,853.9 235.4,852.5 236.2,850.5 242.5,842.3 244.1,837.5 243.8,835.5 242.5,834.0 237.5,832.5 232.5,833.4 227.5,836.5 224.5,837.2ZM227.9,771.5 230.5,773.7 232.5,774.4 234.5,774.3 243.5,769.0 253.7,765.5 256.7,763.5 258.2,761.5 257.5,760.6 233.5,757.9 232.4,758.5 231.2,760.5 228.0,769.5ZM347.7,808.5 346.5,807.6 345.5,807.8 339.5,811.9 330.5,816.9 327.5,817.8 323.5,817.9 318.5,816.6 315.5,814.6 314.3,812.5 312.4,806.5 310.0,803.5 307.4,801.5 302.5,800.3 292.5,802.1 292.0,801.5 292.7,799.5 297.8,793.5 301.5,790.9 309.5,787.9 320.0,777.5 320.7,774.5 319.3,771.5 316.5,769.5 312.5,769.4 309.8,771.5 305.2,778.5 291.8,789.5 279.5,801.5 277.5,804.1 277.5,805.5 278.8,806.5 281.5,807.5 287.5,808.4 290.9,812.5 292.1,816.5 291.4,819.5 289.9,822.5 287.2,825.5 279.5,831.1 276.5,832.3 268.9,832.5 265.2,834.5 264.1,836.5 265.8,838.5 270.5,839.4 284.5,836.7 295.5,836.8 300.5,835.2 306.5,830.2 311.5,828.3 315.5,827.8 332.5,828.1 335.5,827.6 339.5,825.3 343.1,821.5 344.9,815.5 347.7,810.5ZM439.5,628.8 441.5,626.9 444.5,625.8 448.5,625.6 451.5,626.4 454.5,628.3 456.5,630.8 457.4,633.5 457.0,636.5 455.5,638.5 452.5,639.8 449.5,639.7 446.0,638.5 442.5,636.6 440.3,634.5 439.0,631.5ZM347.8,649.5 349.5,647.3 352.5,645.8 355.5,645.3 359.5,645.5 362.5,646.6 365.0,648.5 366.3,650.5 366.5,653.5 364.8,656.5 362.5,658.2 359.5,659.0 355.5,658.7 352.5,657.4 349.5,654.7 347.7,651.5ZM478.5,664.7 479.7,666.5 479.6,668.5 476.5,671.8 473.5,672.9 471.5,672.8 469.5,671.9 468.4,670.5 468.4,667.5 470.5,665.5 475.5,663.9ZM391.4,670.5 396.5,668.3 399.5,668.3 402.5,669.3 404.3,670.5 405.4,672.5 405.0,676.5 402.9,679.5 400.5,681.0 397.5,681.6 394.5,681.0 391.1,678.5 389.6,675.5 389.8,672.5ZM447.8,675.5 448.0,674.5 449.5,672.9 454.5,671.3 460.5,671.5 462.4,672.5 463.0,673.5 462.6,675.5 461.5,676.7 458.5,678.2 455.5,678.8 450.4,678.5 448.5,677.3ZM335.0,679.5 336.3,677.5 338.5,676.3 341.5,675.7 344.5,676.1 357.2,681.5 369.5,688.3 372.5,688.8 380.5,688.0 382.5,689.5 382.9,692.5 382.0,694.5 380.5,695.9 374.5,698.8 368.5,699.9 363.5,699.5 359.5,697.8 353.5,693.9 344.5,690.6 339.5,687.9 335.8,683.5 335.0,681.5ZM429.7,689.5 429.6,691.5 428.2,693.5 425.5,695.8 421.5,697.8 418.5,698.2 416.5,697.8 414.2,696.5 412.9,694.5 413.2,692.5 414.0,691.5 420.5,688.4 426.5,687.7 428.5,688.2ZM454.9,696.5 454.5,699.5 452.5,701.6 447.5,704.2 437.5,707.3 431.5,707.9 428.5,707.0 427.3,705.5 427.5,703.8 428.5,702.6 435.5,698.0 447.5,693.7 450.5,693.3 452.5,693.9ZM383.2,700.5 383.6,699.5 385.5,697.9 389.5,696.7 393.5,697.6 394.7,698.5 395.7,700.5 395.1,702.5 393.5,704.1 391.5,705.0 388.5,705.4 386.5,705.1 384.5,703.9 383.5,702.5ZM327.7,701.5 329.5,699.6 332.5,699.2 334.7,700.5 335.3,702.5 333.5,705.0 330.5,705.4 328.0,703.5ZM446.5,707.5 448.5,706.0 451.5,706.2 453.5,707.9 453.8,710.5 451.5,713.0 448.5,713.1 446.5,711.6 445.9,710.5 446.0,708.5ZM352.5,707.7 356.5,707.2 359.5,708.0 365.8,711.5 368.6,714.5 368.9,716.5 367.3,719.5 365.5,721.2 357.5,726.4 355.7,728.5 354.9,730.5 355.7,733.5 358.5,734.9 363.5,734.3 370.5,730.7 372.4,731.5 373.1,732.5 373.3,734.5 372.3,736.5 365.2,743.5 362.5,745.0 359.5,745.0 356.3,743.5 352.6,738.5 349.1,735.5 346.5,732.5 344.0,726.5 343.8,720.5 345.5,714.5 348.5,710.0ZM384.5,713.5 387.5,711.0 390.5,710.6 393.4,712.5 394.1,715.5 392.9,717.5 391.5,718.6 389.5,719.2 387.5,719.0 385.5,717.8 384.5,716.5ZM992.7,722.5 993.1,721.5 994.5,720.5 997.5,720.1 1000.6,720.5 1002.3,721.5 1002.8,722.5 1002.6,723.5 1001.5,724.8 997.5,725.8 993.6,724.5ZM1025.6,735.5 1027.5,733.9 1030.5,734.1 1032.7,736.5 1032.6,738.5 1030.5,740.0 1027.5,739.7 1025.5,737.7ZM1043.5,760.8 1046.5,757.1 1051.5,754.3 1056.5,753.7 1062.0,754.5 1068.4,756.5 1072.5,759.3 1075.5,764.5 1075.6,768.5 1074.5,771.0 1072.5,773.5 1068.5,775.9 1063.5,776.3 1054.5,774.7 1048.8,772.5 1045.3,769.5 1043.2,765.5 1043.0,763.5ZM987.7,756.5 989.5,755.2 991.5,755.4 992.8,756.5 993.1,758.5 991.5,760.1 989.5,760.3 987.5,758.5ZM778.0,761.5 779.5,759.6 781.5,758.4 784.5,757.7 786.5,758.0 789.5,759.5 791.3,761.5 792.0,763.5 791.7,765.5 790.4,767.5 787.5,769.3 785.5,769.8 782.5,769.4 780.5,768.5 778.4,766.5 777.6,764.5ZM987.5,772.4 989.5,773.5 989.6,774.5 989.1,775.5 987.5,776.2 986.5,775.9 985.8,774.5 986.5,772.8ZM796.5,785.7 799.5,783.8 804.5,783.2 807.5,783.6 811.5,785.8 823.1,795.5 826.8,799.5 828.2,803.5 827.7,806.5 826.5,808.5 825.4,809.5 823.5,810.0 820.3,809.5 813.2,806.5 805.2,801.5 801.5,798.0 797.5,792.5 795.8,788.5ZM1062.3,787.5 1063.5,786.6 1065.3,787.5 1065.0,788.5 1063.5,788.8 1062.6,788.5ZM973.5,795.5 974.3,794.5 975.5,794.2 977.0,795.5 976.8,796.5 975.5,797.3 973.6,796.5ZM751.8,834.5 751.2,837.5 748.9,840.5 745.5,842.7 741.5,843.6 736.5,843.1 732.5,841.9 729.5,840.1 725.5,836.2 724.5,837.1 722.5,841.6 719.7,844.5 715.5,846.5 710.5,847.3 705.5,847.0 702.5,845.6 699.7,842.5 698.5,838.5 699.1,834.5 701.5,831.0 705.5,828.4 710.5,827.2 714.5,827.2 718.5,828.4 721.3,830.5 724.5,834.4 725.5,833.5 727.3,829.5 729.5,827.5 734.5,825.7 740.5,825.7 744.5,827.1 748.3,829.5 751.1,832.5ZM928.5,831.3 931.5,833.3 940.6,843.5 941.6,845.5 941.5,847.5 936.5,853.5 930.5,856.8 926.5,858.1 923.5,858.4 920.5,858.1 916.5,856.8 912.9,854.5 910.1,851.5 908.9,848.5 909.6,845.5 913.7,840.5 920.5,834.3 925.5,831.4ZM641.9,843.5 642.5,841.5 645.5,839.4 652.5,837.2 658.5,836.6 663.5,837.2 666.5,838.4 669.5,840.6 670.8,843.5 669.9,845.5 666.5,847.9 663.5,849.1 658.5,849.8 654.5,849.4 646.5,847.5 643.0,845.5ZM619.6,849.5 620.7,852.5 620.4,856.5 617.0,866.5 612.5,875.2 611.8,877.5 612.5,880.9 617.4,887.5 618.2,890.5 546.1,890.5 546.9,886.5 551.2,880.5 569.4,862.5 582.7,852.5 596.5,844.2 602.5,842.2 609.5,842.9 615.5,845.4ZM780.3,889.5 780.3,890.5 653.5,890.5 653.8,888.5 654.5,887.7 657.5,885.9 683.5,877.7 683.4,876.5 681.3,873.5 681.5,870.5 684.5,868.0 690.5,866.4 695.5,866.1 700.5,866.9 704.5,868.5 706.6,870.5 706.9,873.5 705.3,875.5 702.5,877.1 697.4,878.5 695.6,879.5 696.0,880.5 698.5,881.9 701.2,882.5 704.5,882.4 727.5,878.5 729.0,877.5 728.6,876.5 724.6,872.5 723.0,869.5 721.8,865.5 721.4,860.5 722.4,857.5 725.5,854.1 729.5,851.9 732.5,851.5 735.5,852.0 738.5,854.0 741.2,857.5 742.7,861.5 743.0,864.5 742.3,868.5 740.9,871.5 738.1,875.5 738.1,876.5 746.5,877.5 759.5,876.2 764.5,876.8 776.5,883.1 779.0,886.5ZM1006.4,853.5 1008.3,857.5 1008.1,861.5 1005.5,865.3 1001.5,868.0 996.5,869.7 991.5,869.7 987.5,867.9 984.6,864.5 984.2,862.5 985.5,859.7 989.6,855.5 993.5,852.9 997.5,851.4 1001.5,851.0 1004.5,851.9ZM662.3,857.5 663.5,855.6 665.5,854.3 670.5,853.7 672.5,854.1 674.9,855.5 675.8,856.5 676.3,858.5 675.5,860.5 673.5,862.0 668.5,862.8 665.5,862.2 663.5,861.0 662.4,859.5ZM972.2,869.5 972.4,871.5 971.9,873.5 968.5,876.3 961.5,878.6 952.5,879.8 945.5,879.8 940.5,878.6 937.5,876.2 936.0,872.5 937.3,869.5 940.1,867.5 956.5,859.3 959.5,858.5 963.5,859.2 967.5,862.0 970.4,865.5ZM894.7,867.5 897.3,863.5 900.5,861.0 904.5,860.0 908.5,860.8 910.5,862.1 912.6,864.5 922.5,880.1 924.5,880.3 931.5,879.1 936.5,880.1 939.5,882.2 943.8,886.5 945.2,888.5 945.4,890.5 895.4,890.5 893.4,882.5 893.0,878.5 893.3,872.5ZM621.6,869.5 622.5,867.4 624.7,865.5 627.5,864.4 631.5,864.2 634.5,864.8 637.3,866.5 638.7,868.5 639.0,870.5 638.4,872.5 636.5,874.6 633.5,876.0 629.5,876.4 626.5,875.8 623.5,874.2 622.1,872.5ZM821.6,882.5 822.4,885.5 822.4,890.5 805.1,890.5 805.5,887.9 807.5,884.7 809.8,882.5 813.5,880.2 816.5,879.4 818.5,879.6 820.5,880.9ZM842.2,889.5 844.2,885.5 848.5,881.7 853.5,879.7 858.5,879.2 863.5,880.1 867.9,882.5 871.3,886.5 872.3,890.5 842.2,890.5Z"/>
<path fill="#febe2a" fill-rule="evenodd" d="M1209.6,403.5 1208.5,406.3 1206.5,408.6 1203.5,410.7 1199.5,412.4 1193.5,413.5 1189.5,413.1 1186.5,412.2 1179.5,407.8 1173.5,402.5 1169.9,398.5 1163.5,388.8 1157.7,383.5 1136.5,369.4 1125.5,363.3 1111.7,357.5 1050.5,334.9 1043.5,331.8 1031.5,325.3 1026.5,323.8 1011.5,321.6 1006.6,319.5 994.5,313.1 986.5,310.3 983.5,309.8 976.5,309.9 972.5,309.1 967.5,306.9 957.5,301.0 954.5,300.1 950.3,300.5 938.5,306.7 931.2,309.5 914.5,313.4 867.5,318.3 851.5,320.9 841.5,323.2 833.5,326.0 825.7,331.5 818.5,335.4 812.5,336.8 806.5,337.4 801.5,336.8 790.5,334.2 784.5,333.6 773.5,334.6 763.5,336.3 757.5,336.3 754.5,335.6 748.5,333.1 732.5,328.8 713.5,326.5 698.8,321.5 697.3,320.5 700.5,319.5 709.5,318.8 730.8,314.5 736.5,312.6 744.7,308.5 748.4,305.5 748.7,303.5 748.2,302.5 746.5,301.3 743.5,300.4 706.5,296.2 678.5,295.6 667.5,295.9 662.5,297.1 660.0,299.5 659.5,302.5 660.5,309.5 659.7,314.5 658.5,316.0 655.5,316.5 634.5,315.3 625.5,316.0 619.5,315.2 615.5,314.0 599.6,306.5 597.4,304.5 596.1,302.5 595.8,300.5 596.2,296.5 597.5,291.8 600.5,285.5 603.5,281.0 607.5,276.6 610.5,274.4 616.5,271.3 627.5,268.8 646.5,267.8 662.5,265.5 702.5,262.7 711.5,263.4 727.5,266.0 754.5,265.8 762.5,264.0 776.5,262.0 814.5,258.3 847.5,255.9 873.5,255.8 900.5,257.1 921.5,258.9 937.5,256.1 967.5,253.6 983.5,253.6 997.5,254.7 1001.5,255.6 1004.5,256.9 1006.4,258.5 1007.6,260.5 1007.4,263.5 1005.1,266.5 1001.5,269.3 996.5,271.5 994.8,273.5 995.3,275.5 996.5,276.7 1004.6,281.5 1015.5,285.2 1074.5,296.3 1086.5,300.5 1105.5,309.6 1107.5,309.9 1114.5,308.1 1118.5,308.3 1123.5,309.8 1132.5,314.6 1142.6,323.5 1150.9,332.5 1156.9,340.5 1165.5,356.5 1168.5,360.3 1195.5,382.0 1203.5,389.5 1208.5,397.6 1209.5,400.5ZM351.0,260.5 352.5,260.0 354.5,260.4 358.7,262.5 360.7,265.5 360.5,267.5 358.5,269.5 356.5,269.5 353.2,267.5 350.9,263.5ZM405.5,280.5 405.0,282.5 402.5,284.5 386.5,287.3 382.5,286.9 379.2,285.5 377.3,283.5 376.9,281.5 378.1,278.5 381.5,276.5 396.5,274.3 399.5,274.6 402.5,276.0 404.9,278.5ZM365.2,283.5 367.5,283.0 372.3,285.5 373.8,288.5 373.3,290.5 370.5,290.9 368.0,289.5 365.5,286.5 364.9,284.5ZM505.5,302.5 505.9,301.5 507.3,300.5 512.5,299.9 540.5,300.1 567.5,301.4 572.5,302.5 577.9,305.5 583.5,310.4 584.7,312.5 584.9,314.5 583.5,316.8 579.5,319.4 568.5,322.8 561.5,324.1 545.5,324.8 528.5,323.2 519.5,321.1 514.5,318.7 511.5,316.5 508.7,312.5ZM701.4,380.5 703.4,377.5 707.5,375.5 713.5,373.8 718.5,373.8 722.5,375.0 734.5,380.6 748.0,383.5 750.4,385.5 750.7,387.5 749.8,389.5 748.5,390.8 743.5,392.9 733.5,393.5 725.5,392.9 713.5,390.3 706.5,387.8 702.6,384.5 701.6,382.5ZM1619.5,463.6 1620.5,463.6 1620.5,492.3 1618.5,491.8 1616.6,488.5 1615.0,482.5 1614.1,474.5 1614.2,470.5 1615.2,467.5 1617.5,464.5ZM224.5,602.8 227.5,603.7 235.5,610.3 251.5,616.8 255.5,617.7 258.5,617.2 262.5,614.6 265.5,611.3 269.5,605.6 271.5,603.9 274.5,602.7 277.5,602.8 280.5,604.2 284.5,607.5 291.6,615.5 295.5,622.5 298.5,625.1 302.5,627.3 307.5,628.5 311.5,628.3 327.5,622.0 330.5,622.5 332.7,624.5 334.5,628.5 335.8,637.5 335.9,645.5 334.6,650.5 332.5,653.3 326.5,658.8 315.9,665.5 305.4,679.5 304.1,682.5 304.0,684.5 306.0,692.5 306.3,696.5 305.6,699.5 304.4,701.5 302.5,703.6 299.6,705.5 289.5,709.4 288.7,710.5 288.6,711.5 290.6,713.5 293.2,714.5 309.5,717.0 312.5,718.2 329.4,735.5 336.9,740.5 338.9,744.5 338.2,749.5 340.0,755.5 339.5,757.5 337.6,761.5 338.1,764.5 341.5,768.3 344.5,770.6 349.5,773.6 356.5,776.5 359.4,779.5 361.1,782.5 361.2,785.5 359.5,787.3 351.7,789.5 355.3,792.5 356.6,795.5 356.3,798.5 354.5,800.6 351.5,801.7 347.5,801.4 344.1,799.5 342.0,796.5 342.2,793.5 343.7,791.5 346.5,789.9 351.3,788.5 339.5,783.2 335.5,778.0 325.5,767.9 319.5,766.5 313.5,766.8 309.5,768.9 303.5,777.3 289.8,788.5 276.6,801.5 274.3,804.5 273.5,806.5 273.8,807.5 278.5,809.1 282.3,811.5 286.0,815.5 287.6,818.5 287.4,821.5 286.2,823.5 279.5,829.0 277.5,830.2 275.5,830.6 268.5,828.3 263.5,829.9 261.5,829.8 259.3,828.5 258.2,826.5 257.5,823.1 256.5,822.8 243.5,829.7 232.5,831.2 226.5,834.6 224.5,834.9 224.5,774.2 226.5,774.4 232.5,776.5 235.5,776.1 244.5,770.8 252.5,768.3 255.5,766.8 259.6,763.5 261.0,760.5 260.5,759.3 258.5,758.3 239.5,756.3 228.5,753.6 224.5,753.6ZM353.8,650.5 355.5,649.2 358.5,649.1 360.7,650.5 361.0,652.5 360.5,653.5 358.8,654.5 356.0,654.5 354.5,653.7 353.6,652.5ZM452.4,696.5 452.6,698.5 451.5,699.8 440.5,704.6 436.5,705.2 434.7,704.5 434.0,703.5 434.4,701.5 437.5,699.0 443.5,697.5 448.5,695.2 450.5,695.2ZM357.8,739.5 359.5,738.5 361.5,738.4 363.5,738.9 364.0,739.5 363.0,741.5 360.5,742.6 358.4,741.5ZM312.7,789.5 315.5,786.3 319.5,784.1 323.5,784.2 327.5,786.0 335.5,791.3 340.1,796.5 341.1,800.5 340.1,804.5 337.5,807.4 333.5,809.1 329.5,809.1 323.5,807.0 317.5,803.0 312.9,797.5 311.7,793.5ZM368.5,790.1 370.5,789.6 372.5,790.4 379.5,796.1 381.1,799.5 380.6,801.5 379.7,802.5 377.5,803.6 375.5,803.5 373.5,802.7 371.5,801.1 369.8,798.5 368.5,794.5 368.0,791.5ZM349.5,813.1 351.5,812.3 354.5,812.5 357.5,813.6 359.7,815.5 360.4,817.5 360.2,820.5 358.5,823.5 356.5,825.1 354.5,825.7 351.5,825.2 349.5,824.1 347.5,822.0 346.6,819.5 346.8,816.5 347.8,814.5ZM729.0,831.5 730.1,829.5 732.5,827.9 735.5,826.9 739.5,826.8 743.5,828.2 746.7,830.5 748.5,832.5 749.3,835.5 747.8,838.5 745.5,840.3 742.5,841.3 738.5,841.1 734.5,839.7 731.4,837.5 729.3,834.5ZM305.6,833.5 308.5,831.1 313.5,829.8 328.5,830.2 332.8,831.5 335.9,834.5 337.7,840.5 337.3,845.5 335.5,850.5 332.3,854.5 329.5,856.0 325.5,856.0 318.5,854.6 309.5,855.2 306.5,854.3 302.9,850.5 302.1,847.5 304.2,841.5 304.3,836.5ZM718.1,831.5 719.5,833.5 719.5,835.5 717.6,838.5 714.5,841.3 710.7,843.5 708.5,844.2 705.5,843.9 703.4,842.5 702.3,840.5 702.5,837.5 705.1,833.5 707.4,831.5 710.5,830.1 713.5,829.8 716.5,830.5ZM250.5,834.9 253.5,834.4 255.5,834.8 257.5,835.8 259.8,838.5 260.9,841.5 260.7,843.5 259.5,845.5 257.5,847.2 254.5,848.2 251.5,847.9 248.9,846.5 247.3,844.5 246.4,841.5 246.7,838.5 247.9,836.5ZM929.5,836.1 932.5,838.0 935.4,841.5 936.5,844.5 936.0,847.5 933.5,850.2 929.5,852.2 924.5,853.2 920.5,852.5 918.5,850.9 917.0,848.5 916.7,845.5 917.6,842.5 920.7,838.5 923.5,836.3 926.5,835.5ZM652.2,841.5 653.1,840.5 655.5,839.7 660.5,839.5 664.5,840.9 665.8,842.5 665.8,843.5 664.5,845.3 662.5,846.3 657.5,846.8 655.5,846.2 653.1,844.5 652.1,842.5ZM277.5,842.5 281.5,841.0 286.5,841.1 290.5,842.7 294.1,846.5 295.1,849.5 294.9,852.5 291.2,858.5 291.2,860.5 293.5,867.7 294.5,868.1 299.5,867.8 301.5,868.8 303.5,871.0 304.1,874.5 303.3,876.5 301.5,878.5 299.5,879.4 297.5,879.4 292.5,876.8 288.5,879.5 286.5,879.8 284.5,879.1 282.9,877.5 280.8,872.5 279.9,860.5 276.1,855.5 274.3,850.5 274.9,845.5ZM611.2,850.5 614.3,855.5 614.9,861.5 613.5,867.1 609.9,874.5 609.4,878.5 610.5,882.5 614.5,888.5 614.8,890.5 570.0,890.5 570.9,884.5 575.2,874.5 581.5,862.3 587.8,854.5 595.5,848.6 601.5,846.4 604.5,846.5 606.5,847.1ZM730.5,855.4 733.5,855.1 736.5,856.4 738.5,858.5 740.2,862.5 740.2,865.5 738.8,869.5 736.5,872.1 734.5,873.0 731.5,872.6 728.5,871.0 726.3,868.5 724.5,864.4 724.2,860.5 725.1,858.5 727.5,856.5ZM991.9,858.5 993.5,856.5 995.1,855.5 999.5,854.9 1002.7,856.5 1003.8,858.5 1003.9,860.5 1002.9,862.5 1001.5,863.8 999.5,864.7 996.5,865.0 994.5,864.4 992.3,862.5 991.5,860.5ZM262.6,860.5 265.2,864.5 266.0,867.5 266.1,871.5 265.2,877.5 262.5,885.0 261.4,890.5 231.9,890.5 232.3,887.5 241.2,868.5 246.5,859.3 250.5,857.0 254.5,856.6 259.5,858.1ZM341.5,861.9 344.5,861.1 347.5,861.3 350.0,862.5 351.9,864.5 352.5,866.5 352.2,869.5 350.5,872.3 348.5,873.9 346.5,874.7 343.5,874.8 340.5,873.4 338.7,871.5 337.8,869.5 337.8,866.5 339.4,863.5ZM904.5,863.3 907.5,863.9 910.5,866.5 913.0,871.5 914.0,876.5 913.7,880.5 912.4,883.5 909.5,885.9 905.5,887.0 902.5,886.4 900.1,884.5 898.1,880.5 896.9,875.5 897.2,871.5 898.5,867.5 901.2,864.5ZM942.1,872.5 942.5,870.5 945.5,867.8 949.5,866.1 955.5,864.7 959.5,864.6 963.5,865.3 966.5,867.3 967.6,869.5 967.3,871.5 965.2,873.5 961.5,875.1 955.5,876.3 946.5,876.4 943.5,874.8ZM778.2,889.5 778.2,890.5 657.9,890.5 657.9,889.5 658.9,888.5 676.7,882.5 681.9,881.5 689.5,881.4 697.5,884.7 702.5,885.3 736.5,880.3 757.5,879.4 764.5,880.3 773.5,883.6 776.0,885.5ZM819.5,882.9 820.4,885.5 820.5,890.5 807.2,890.5 807.4,888.5 808.6,886.5 813.3,882.5 816.5,881.4 818.5,882.0ZM845.2,889.5 847.0,886.5 850.5,883.7 854.5,882.3 858.5,882.0 862.5,882.7 866.0,884.5 868.7,887.5 869.4,890.5 845.2,890.5Z"/>
<path fill="#fca934" fill-rule="evenodd" d="M918.1,268.5 919.5,266.5 923.5,264.1 933.5,261.2 950.5,259.2 958.5,259.9 961.5,260.9 964.5,262.9 982.0,279.5 993.3,285.5 999.4,287.5 1013.5,290.1 1027.5,294.2 1037.5,293.7 1042.5,294.6 1050.5,298.5 1072.5,306.6 1104.5,322.4 1106.5,322.8 1107.5,322.2 1108.0,320.5 1107.9,314.5 1109.0,312.5 1110.3,311.5 1112.5,310.6 1115.5,310.3 1121.0,311.5 1128.8,315.5 1133.1,318.5 1141.5,326.3 1150.5,336.4 1155.4,343.5 1167.0,364.5 1169.1,371.5 1168.9,375.5 1167.0,377.5 1163.5,378.3 1158.5,377.5 1152.5,375.5 1142.2,369.5 1131.5,360.3 1115.5,354.9 1103.5,350.0 1095.5,345.7 1075.5,333.6 1064.5,330.4 1051.5,328.9 1046.5,327.2 1042.1,324.5 1026.5,311.6 1019.5,308.1 986.5,297.3 979.5,295.6 979.1,296.5 982.5,299.8 984.4,302.5 984.8,304.5 983.8,306.5 981.5,307.6 977.5,307.9 974.5,307.6 970.5,306.1 961.1,300.5 959.4,298.5 959.2,296.5 960.5,294.8 962.5,294.0 971.5,294.0 973.0,293.5 924.5,275.0 919.0,271.5 918.4,270.5ZM845.8,268.5 845.2,269.5 843.5,270.3 837.5,271.6 831.5,272.2 823.9,271.5 823.8,270.5 838.5,267.4 844.5,267.2ZM708.4,272.5 710.5,270.7 713.5,269.7 718.5,269.4 721.5,270.2 725.0,272.5 727.3,275.5 728.2,278.5 727.7,281.5 726.0,283.5 723.5,284.5 719.5,284.4 714.5,283.1 711.5,281.3 709.2,278.5 708.0,275.5ZM809.6,286.5 809.8,292.5 808.5,295.1 806.5,295.9 797.5,294.9 794.5,295.8 793.0,297.5 794.2,302.5 793.5,304.7 790.5,306.8 785.5,308.0 780.0,307.5 769.5,302.4 761.5,301.8 757.5,300.7 755.0,298.5 753.3,293.5 753.3,290.5 754.2,286.5 755.5,284.0 757.5,282.0 761.5,280.4 770.5,279.1 779.5,276.6 791.5,276.0 800.5,277.6 804.5,279.3 806.5,280.7 808.6,283.5ZM395.5,278.5 397.5,276.8 399.5,276.8 401.7,278.5 401.8,280.5 400.5,281.9 397.5,282.1 395.6,280.5ZM380.0,281.5 381.5,279.5 385.5,278.8 388.3,280.5 388.9,283.5 388.2,284.5 386.5,285.4 383.5,285.3 380.6,283.5ZM605.6,291.5 610.5,286.1 618.5,280.9 624.5,279.2 629.5,279.5 635.5,282.0 640.5,286.6 642.2,289.5 643.5,293.5 644.0,297.5 643.6,300.5 641.4,305.5 639.5,307.6 636.5,309.3 628.5,311.2 622.5,311.3 618.5,310.8 612.5,308.3 607.5,303.5 604.8,297.5 604.7,294.5ZM668.2,283.5 668.6,282.5 670.5,281.2 676.5,279.3 693.5,278.9 701.5,280.6 710.5,284.2 713.4,286.5 714.0,288.5 713.2,290.5 710.5,291.7 702.5,292.3 694.5,292.0 686.5,290.8 671.5,286.8 669.1,285.5ZM833.2,288.5 835.0,286.5 841.5,284.4 847.5,283.6 854.5,283.9 862.5,286.2 868.5,288.8 872.2,292.5 872.9,294.5 872.8,296.5 871.5,298.9 869.1,301.5 862.5,305.6 856.5,307.3 850.5,307.2 845.5,305.4 840.8,301.5 834.2,292.5 833.3,290.5ZM575.7,309.5 575.1,312.5 570.5,316.7 565.5,318.6 557.3,320.5 547.5,321.5 541.5,321.2 535.3,319.5 533.5,318.4 532.2,316.5 532.3,315.5 533.5,313.8 537.5,311.6 543.5,309.2 554.5,306.2 564.5,304.8 568.5,305.0 573.5,306.7ZM756.4,312.5 755.5,315.5 750.5,319.4 745.5,321.7 737.5,323.8 728.5,325.0 721.5,324.9 716.0,323.5 714.6,322.5 714.3,321.5 716.5,320.1 735.5,316.1 749.5,309.5 753.5,309.7 755.5,310.9ZM819.4,330.5 818.6,332.5 817.0,333.5 809.5,334.8 804.5,334.5 796.6,332.5 795.4,331.5 795.7,330.5 797.5,329.8 813.5,327.8 817.5,328.5ZM1166.6,385.5 1168.5,383.7 1170.5,382.8 1177.5,381.7 1182.5,382.6 1188.5,386.1 1194.0,391.5 1197.1,397.5 1198.1,401.5 1198.2,404.5 1197.6,407.5 1196.4,409.5 1193.5,411.1 1188.5,410.8 1184.5,409.0 1179.5,405.3 1173.3,399.5 1168.8,393.5 1166.3,388.5ZM277.5,604.0 279.5,604.8 282.5,607.1 289.0,614.5 290.6,617.5 290.4,622.5 291.0,624.5 293.5,627.4 297.5,629.6 301.5,630.3 309.5,629.8 314.5,628.4 326.5,623.5 328.5,623.5 330.4,624.5 332.4,627.5 333.6,632.5 334.3,640.5 333.9,647.5 332.1,651.5 325.1,658.5 315.7,663.5 313.0,665.5 303.0,679.5 301.5,682.5 301.2,685.5 301.4,688.5 302.8,693.5 302.8,696.5 301.5,699.5 298.6,702.5 293.5,705.0 285.5,705.2 283.7,706.5 281.5,709.4 275.5,706.9 269.5,705.6 263.5,705.8 260.1,707.5 258.5,710.5 258.2,714.5 258.8,716.5 262.1,720.5 261.5,721.5 255.5,723.9 253.1,726.5 251.1,733.5 251.1,737.5 251.8,740.5 253.5,742.2 255.5,743.0 260.5,743.3 261.8,742.5 264.5,738.4 269.7,735.5 272.5,731.5 273.9,727.5 273.3,725.5 270.5,722.5 270.7,721.5 277.5,717.9 282.5,712.0 287.0,714.5 289.5,715.2 310.5,718.3 313.7,720.5 327.9,735.5 334.5,739.9 336.1,741.5 337.1,744.5 336.8,749.5 338.6,755.5 335.5,762.5 336.0,764.5 337.9,767.5 341.5,771.2 347.5,774.9 353.5,776.3 356.1,777.5 358.6,780.5 359.2,783.5 357.5,785.6 353.5,786.2 346.5,783.4 342.5,782.8 340.4,781.5 336.5,775.1 330.5,770.2 326.5,765.6 318.5,763.9 312.5,764.9 308.5,767.4 301.5,776.3 286.5,788.7 257.5,818.0 243.5,826.6 240.5,827.8 232.5,829.1 226.5,832.2 224.5,832.5 224.5,776.6 232.5,778.6 236.5,777.9 243.6,773.5 254.5,769.3 260.7,764.5 262.2,762.5 262.8,760.5 261.9,757.5 259.5,756.3 240.5,754.5 235.5,753.5 229.5,751.0 224.5,750.8 224.5,688.2 232.5,689.2 236.5,688.4 239.8,685.5 241.3,682.5 242.0,679.5 241.6,677.5 240.5,675.8 236.5,672.9 230.5,670.5 224.5,670.3 224.5,607.5 228.5,608.4 234.5,613.7 237.5,615.3 251.5,619.5 257.5,620.2 260.5,619.3 264.5,616.1 266.7,613.5 269.9,607.5 271.6,605.5 274.5,604.0ZM446.7,698.5 448.5,697.0 449.5,696.9 450.5,697.5 450.2,698.5 447.5,699.3ZM436.2,702.5 436.5,701.5 438.5,700.2 440.5,699.9 443.1,700.5 441.3,702.5 439.5,703.4 437.5,703.6ZM315.2,789.5 318.5,786.8 321.5,786.3 331.5,790.8 335.1,793.5 337.4,796.5 338.7,800.5 338.0,803.5 335.5,806.0 332.5,806.9 328.7,806.5 324.4,804.5 318.8,800.5 315.3,796.5 314.2,792.5ZM344.6,794.5 346.5,792.4 348.5,792.0 350.5,792.2 352.7,793.5 353.9,796.5 352.5,798.7 350.5,799.4 348.5,799.3 345.3,797.5ZM370.5,793.2 371.5,792.5 378.5,796.9 379.7,799.5 378.8,801.5 377.5,802.3 375.5,802.3 372.6,800.5 371.1,797.5ZM285.3,818.5 285.7,820.5 284.9,822.5 278.0,828.5 276.5,829.2 273.5,828.6 269.5,825.6 263.5,827.8 261.5,827.3 260.3,825.5 260.5,823.5 261.2,822.5 267.5,819.0 270.9,812.5 272.5,810.8 274.5,809.9 276.5,810.0 279.1,811.5ZM349.5,815.9 351.5,814.9 353.5,814.7 355.5,815.2 357.5,816.4 358.5,817.9 358.7,819.5 357.5,822.3 354.5,823.8 351.0,822.5 349.3,820.5 348.7,818.5ZM731.2,831.5 732.5,829.8 734.5,828.6 736.5,828.1 739.5,828.2 742.5,829.4 745.2,831.5 746.7,833.5 747.1,835.5 746.1,837.5 743.5,839.3 741.5,839.7 738.5,839.3 735.5,838.1 733.3,836.5 731.3,833.5ZM307.4,833.5 310.5,831.6 313.5,831.1 320.5,832.2 327.5,831.5 331.5,832.9 333.1,834.5 334.1,836.5 334.9,841.5 334.5,845.5 332.5,850.1 330.4,852.5 327.5,853.9 319.5,852.8 311.5,853.5 308.1,852.5 305.5,849.7 304.9,847.5 306.8,842.5 306.3,836.5ZM708.0,835.5 709.3,833.5 711.5,832.6 713.5,832.8 715.0,834.5 714.4,836.5 711.5,838.1 709.0,837.5ZM249.1,838.5 250.5,837.3 252.5,836.6 255.5,837.0 258.1,839.5 258.6,841.5 258.1,843.5 255.5,845.6 253.5,845.9 251.5,845.4 248.9,842.5 248.5,840.5ZM924.0,840.5 925.5,839.2 927.5,838.6 930.8,839.5 933.6,842.5 934.0,844.5 933.4,846.5 931.5,848.2 929.5,848.9 927.5,848.9 925.5,848.0 924.0,846.5 923.1,844.5 923.1,842.5ZM282.5,843.3 285.5,843.2 289.0,844.5 291.2,846.5 292.6,849.5 292.2,852.5 288.0,858.5 288.3,860.5 290.5,865.5 291.2,870.5 290.0,874.5 287.5,876.9 285.4,876.5 283.3,873.5 282.3,867.5 282.8,859.5 278.5,854.3 277.0,850.5 277.1,847.5 278.1,845.5 279.5,844.4ZM260.5,861.0 263.5,865.5 264.2,871.5 263.7,875.5 259.8,887.5 259.4,890.5 234.0,890.5 235.2,885.5 243.9,866.5 246.8,861.5 249.5,859.3 253.5,858.2 257.5,859.0ZM733.5,859.5 735.5,860.3 736.4,861.5 737.0,864.5 736.0,867.5 735.0,868.5 733.5,868.9 731.3,867.5 730.3,864.5 730.9,861.5 731.5,860.5ZM604.8,868.5 606.5,873.5 607.5,884.5 607.4,890.5 576.7,890.5 577.5,885.5 582.1,876.5 584.8,872.5 589.5,867.4 593.5,865.1 597.5,864.6 601.5,865.8ZM341.8,868.5 343.5,866.6 346.5,866.3 348.6,867.5 349.0,869.5 347.5,871.2 344.5,871.6 342.4,870.5ZM904.5,865.9 906.6,866.5 908.3,868.5 909.3,871.5 909.5,874.5 908.2,880.5 906.5,882.5 904.5,883.0 902.5,881.8 901.5,880.3 900.1,876.5 899.7,873.5 900.8,868.5 902.5,866.5ZM947.2,870.5 948.0,869.5 950.1,868.5 956.5,867.7 960.6,868.5 961.7,869.5 961.8,870.5 961.1,871.5 959.1,872.5 953.5,873.2 948.6,872.5 947.3,871.5ZM294.3,871.5 296.5,869.9 299.5,870.0 302.0,872.5 301.6,875.5 299.5,877.2 296.5,876.9 294.2,874.5 293.9,872.5ZM738.1,889.5 740.3,886.5 744.5,884.1 748.5,883.0 754.5,882.7 766.5,883.9 772.5,885.4 775.0,887.5 775.8,890.5 738.1,890.5Z"/>
<path fill="#f89441" fill-rule="evenodd" d="M682.2,284.5 682.9,283.5 685.5,282.6 693.7,282.5 701.4,284.5 702.6,285.5 703.2,287.5 702.5,288.6 700.5,289.2 692.5,288.8 685.5,287.5 683.4,286.5 682.4,285.5ZM609.8,296.5 612.1,293.5 616.5,290.6 622.5,288.5 627.5,287.9 632.5,289.0 636.3,291.5 638.6,294.5 639.3,298.5 638.2,302.5 636.6,304.5 634.0,306.5 628.5,308.4 622.5,308.8 617.5,307.9 613.7,305.5 610.1,300.5 609.5,298.5ZM993.4,292.5 994.5,291.3 996.5,290.7 1004.5,291.3 1010.5,292.9 1012.5,294.5 1012.8,295.5 1011.5,297.5 1009.5,298.3 1003.5,298.7 995.5,296.0 993.8,294.5ZM1029.3,298.5 1030.5,297.5 1033.5,296.7 1039.5,296.6 1042.6,297.5 1053.5,303.5 1059.2,308.5 1063.3,313.5 1065.5,318.5 1064.7,321.5 1061.5,324.2 1056.5,325.5 1052.5,325.3 1048.3,323.5 1040.5,317.5 1033.5,310.1 1029.4,302.5 1028.9,300.5ZM962.8,297.5 965.5,296.7 974.9,298.5 980.1,301.5 981.5,303.4 981.5,304.5 980.5,305.5 977.5,305.9 971.6,304.5 964.5,300.5 962.7,298.5ZM1111.9,313.5 1114.5,312.6 1117.5,313.2 1119.8,314.5 1122.4,317.5 1124.5,321.5 1124.9,324.5 1124.4,326.5 1122.5,328.9 1119.5,329.7 1116.5,327.4 1111.5,317.6 1111.1,315.5ZM1074.7,320.5 1076.5,319.2 1079.5,318.9 1085.5,319.8 1090.0,321.5 1092.6,323.5 1097.9,329.5 1106.5,336.8 1112.5,339.8 1124.5,343.1 1128.6,345.5 1133.0,349.5 1133.0,352.5 1131.5,354.1 1129.5,355.1 1124.5,354.9 1111.4,350.5 1100.6,345.5 1090.3,339.5 1079.1,331.5 1076.8,328.5 1074.6,324.5 1074.2,322.5ZM1169.5,386.5 1171.5,385.4 1174.5,384.6 1179.5,384.6 1184.2,386.5 1189.4,390.5 1192.6,394.5 1194.9,400.5 1195.3,404.5 1194.5,407.1 1193.5,408.4 1191.5,409.1 1187.8,408.5 1184.3,406.5 1179.2,402.5 1174.2,397.5 1170.5,392.5 1168.7,388.5ZM271.6,607.5 273.5,605.8 275.5,605.1 277.5,605.2 280.5,606.7 283.3,609.5 287.7,615.5 288.3,617.5 287.6,619.5 285.5,620.8 281.5,621.2 277.5,620.3 274.5,618.6 272.4,616.5 270.8,613.5 270.5,610.5ZM224.5,616.7 228.5,616.9 253.5,622.7 257.5,624.2 260.5,626.2 262.0,628.5 262.1,630.5 260.8,635.5 261.5,636.6 263.5,637.4 270.5,635.6 277.5,637.6 285.5,635.6 290.5,637.4 292.5,637.5 302.5,632.9 312.5,630.2 324.6,625.5 327.5,625.1 329.5,626.1 330.5,627.4 331.9,631.5 332.7,639.5 332.2,647.5 330.1,651.5 325.5,656.8 322.5,659.2 316.5,661.4 308.5,661.3 306.4,662.5 306.2,664.5 307.2,667.5 306.8,670.5 300.0,680.5 297.5,690.0 293.5,694.1 289.5,696.2 285.5,696.8 271.5,694.3 268.5,692.8 266.5,691.1 260.7,684.5 254.5,676.0 246.5,669.4 242.1,667.5 234.5,665.8 224.5,666.9ZM224.5,690.5 228.5,690.9 236.5,693.0 243.4,696.5 251.5,699.2 255.0,702.5 256.4,706.5 255.9,711.5 254.2,717.5 247.4,726.5 240.7,740.5 238.5,742.7 234.5,745.1 230.5,746.7 224.5,747.3ZM256.3,771.5 257.7,769.5 263.2,764.5 268.0,755.5 267.7,751.5 264.9,744.5 264.7,742.5 265.4,740.5 271.3,736.5 275.3,730.5 278.8,723.5 282.5,719.9 285.5,718.0 289.5,717.1 295.5,717.1 306.5,718.4 310.5,719.5 313.5,721.8 324.5,733.8 328.8,737.5 333.7,740.5 335.3,742.5 335.2,748.5 337.1,755.5 336.4,757.5 332.7,762.5 334.6,767.5 333.5,769.1 331.5,768.7 330.5,767.8 329.3,764.5 328.3,763.5 318.5,760.9 315.5,760.6 312.5,761.4 309.5,762.9 304.5,768.5 302.5,769.8 300.4,769.5 289.5,762.9 286.5,762.0 282.5,761.7 279.5,762.3 275.5,764.3 264.5,772.5 261.5,774.2 258.5,774.2 256.5,772.6ZM341.5,776.6 343.5,776.3 345.3,777.5 346.1,779.5 345.7,780.5 343.5,781.3 341.6,780.5 340.7,778.5ZM350.1,778.5 352.5,777.4 355.5,778.3 357.1,780.5 357.3,782.5 356.7,783.5 354.5,784.5 351.2,783.5 349.7,781.5 349.5,779.5ZM317.5,789.8 319.5,788.5 321.5,788.6 325.5,791.0 329.5,791.9 332.5,793.3 334.9,795.5 336.1,797.5 336.6,800.5 336.1,802.5 334.5,804.1 332.5,804.9 329.5,804.6 327.5,803.5 325.7,801.5 323.5,797.4 318.5,795.6 317.3,794.5 316.5,792.5ZM347.5,794.8 348.5,794.4 349.5,794.7 350.1,795.5 349.8,796.5 348.5,796.9 347.5,796.6 347.1,795.5ZM244.9,797.5 247.5,796.6 249.1,797.5 250.0,799.5 249.2,801.5 247.5,802.4 244.9,801.5 244.0,799.5ZM374.0,797.5 375.5,797.0 376.7,797.5 377.7,798.5 377.6,800.5 376.5,800.9 374.8,800.5 373.6,798.5ZM273.3,812.5 275.5,811.6 277.7,812.5 278.9,814.5 279.5,816.7 282.5,818.3 283.5,819.5 283.5,820.9 282.5,822.3 280.5,823.0 279.5,822.7 277.5,819.0 274.5,818.4 273.0,817.5 272.2,815.5ZM352.5,817.6 354.5,817.3 356.3,818.5 356.4,820.5 355.6,821.5 353.5,821.7 352.0,820.5 351.8,818.5ZM264.8,823.5 265.3,824.5 264.5,825.4 263.2,825.5 262.8,824.5 263.5,823.6ZM274.8,826.5 275.5,825.1 276.5,824.9 277.3,825.5 277.2,826.5 276.5,827.2 275.5,827.3ZM734.4,831.5 736.5,830.2 740.0,830.5 742.8,832.5 743.5,833.6 743.7,835.5 743.1,836.5 741.5,837.3 737.5,836.7 734.8,834.5 734.1,832.5ZM314.5,832.6 317.1,834.5 317.2,836.5 316.5,837.9 313.5,839.8 311.5,839.9 309.5,838.9 308.2,836.5 308.6,834.5 311.5,832.6ZM323.0,834.5 324.1,833.5 326.5,832.7 329.8,833.5 330.9,834.5 331.7,836.5 331.0,839.5 328.5,841.4 326.5,841.5 324.5,840.6 322.6,837.5ZM251.1,839.5 252.5,838.4 254.6,838.5 256.5,840.5 256.1,842.5 254.5,843.6 252.5,843.5 250.8,841.5ZM929.5,843.4 930.7,844.5 929.5,845.6 928.3,844.5ZM308.7,846.5 311.5,844.5 314.5,844.5 317.4,846.5 317.9,848.5 316.7,850.5 315.5,851.1 311.5,851.5 309.5,850.6 308.3,848.5ZM281.6,846.5 284.5,845.3 286.5,845.5 288.4,846.5 290.1,849.5 289.3,852.5 287.5,854.0 285.5,854.6 282.1,853.5 280.2,850.5 280.3,848.5ZM259.2,861.5 262.0,865.5 262.8,871.5 262.0,876.5 258.3,887.5 257.9,890.5 235.6,890.5 236.7,885.5 247.5,862.5 250.5,860.1 253.5,859.3 256.5,859.8ZM286.5,864.1 288.5,865.5 289.4,869.5 288.5,873.0 287.5,873.9 286.5,874.1 285.5,873.5 284.5,871.8 284.0,868.5 284.6,865.5ZM904.5,869.2 905.5,870.2 905.9,872.5 905.5,874.4 904.5,875.5 903.5,875.4 902.9,874.5 902.4,872.5 903.4,869.5ZM297.5,871.4 299.5,872.0 300.3,873.5 300.0,874.5 298.5,875.6 296.5,874.8 296.0,873.5 296.1,872.5ZM601.5,876.5 602.5,878.5 603.1,881.5 602.6,890.5 583.9,890.5 584.3,887.5 586.4,882.5 588.5,879.4 591.5,876.6 594.5,874.9 597.5,874.3 599.5,874.8Z"/>
<path fill="#f1814d" fill-rule="evenodd" d="M616.4,302.5 617.5,300.9 622.5,297.9 625.5,297.1 630.5,297.5 632.5,298.7 633.5,300.5 633.2,302.5 631.6,304.5 629.5,305.6 625.5,306.4 621.5,306.4 618.5,305.7 616.9,304.5ZM1040.3,306.5 1041.5,305.1 1043.5,304.9 1044.6,305.5 1045.1,307.5 1044.2,308.5 1042.5,308.9 1040.5,307.7ZM273.5,607.5 276.5,606.3 279.7,607.5 281.7,609.5 284.3,613.5 285.6,616.5 285.3,617.5 283.5,618.5 280.5,618.7 277.5,618.1 275.5,616.9 273.4,614.5 272.3,611.5 272.4,609.5ZM224.5,619.5 238.5,621.7 251.5,624.7 256.1,626.5 258.5,628.3 259.1,629.5 257.8,634.5 258.4,637.5 260.5,639.5 263.5,640.3 270.5,638.4 277.5,640.5 285.5,638.5 290.5,640.3 292.5,640.4 305.5,633.9 320.9,628.5 326.5,627.2 328.6,628.5 330.3,633.5 330.9,640.5 330.5,646.6 329.4,649.5 326.1,654.5 322.5,658.1 317.5,659.5 308.5,658.4 306.5,658.9 304.1,660.5 302.9,663.5 304.5,668.5 304.0,670.5 297.9,679.5 295.5,688.1 292.4,691.5 289.0,693.5 285.5,694.1 273.5,692.4 270.5,691.3 268.1,689.5 263.6,684.5 256.5,674.1 247.5,666.8 242.5,664.8 233.5,663.5 224.5,664.3ZM224.5,692.6 227.5,692.9 232.9,694.5 242.5,699.1 250.0,701.5 253.0,704.5 254.2,708.5 253.7,712.5 252.1,716.5 244.6,726.5 238.2,739.5 236.1,741.5 231.5,744.3 228.5,745.3 224.5,745.6ZM267.1,742.5 268.3,740.5 271.5,738.3 273.2,736.5 280.8,724.5 285.5,720.5 288.5,719.2 293.5,718.4 306.5,719.4 309.5,720.3 311.5,721.6 323.4,734.5 333.1,741.5 334.0,743.5 333.4,748.5 334.8,753.5 334.8,755.5 332.2,758.5 330.3,759.5 327.5,760.0 323.5,759.7 315.5,757.5 308.5,757.8 302.5,756.0 295.5,756.8 288.5,756.0 280.5,756.9 277.5,755.9 273.2,752.5 267.8,744.5ZM352.5,779.5 354.5,779.4 355.4,780.5 355.4,781.5 354.5,782.4 353.5,782.4 352.5,781.7 352.1,780.5ZM329.5,794.6 332.5,795.3 334.1,797.5 334.3,800.5 332.5,802.6 329.9,802.5 327.9,800.5 327.3,798.5 327.6,796.5ZM326.1,834.5 327.5,834.3 329.3,835.5 329.3,837.5 328.5,838.6 326.5,838.8 325.2,837.5 325.1,835.5ZM311.2,835.5 312.5,834.8 313.6,835.5 312.5,836.6 311.5,836.4ZM283.3,849.5 283.9,848.5 285.5,848.0 286.6,848.5 287.2,849.5 287.0,850.5 285.5,851.6 283.5,850.6ZM257.6,861.5 259.6,863.5 260.7,865.5 261.5,871.5 260.6,876.5 256.7,887.5 256.3,890.5 237.1,890.5 237.8,886.5 248.0,863.5 249.9,861.5 252.5,860.3 255.5,860.5Z"/>
<path fill="#e87059" fill-rule="evenodd" d="M275.0,608.5 277.5,608.0 279.8,609.5 281.5,612.5 281.6,614.5 281.1,615.5 278.5,616.3 276.5,615.6 275.3,614.5 273.9,611.5 274.2,609.5ZM236.5,627.6 242.5,628.3 247.6,630.5 251.1,633.5 252.2,635.5 252.4,637.5 251.5,641.5 249.5,644.6 246.5,646.8 241.7,648.5 241.6,649.5 243.3,654.5 243.1,657.5 241.4,660.5 238.5,661.6 235.5,661.5 232.0,660.5 230.5,659.1 229.7,656.5 229.9,653.5 230.7,651.5 232.5,649.7 236.7,647.5 236.4,646.5 232.5,643.2 230.8,640.5 229.4,635.5 229.3,632.5 230.2,630.5 231.5,629.2ZM322.5,630.9 325.5,631.9 327.4,634.5 328.5,638.5 328.5,643.7 327.6,647.5 324.8,654.5 322.5,657.0 319.5,657.9 316.6,656.5 313.5,652.2 307.5,649.8 304.5,647.6 302.2,644.5 301.6,641.5 302.8,638.5 307.2,635.5 317.5,631.8ZM265.0,680.5 266.5,678.3 270.5,677.2 283.5,679.5 286.5,681.2 288.5,683.4 289.4,685.5 289.1,687.5 287.5,689.5 284.5,690.9 280.5,691.0 273.5,689.8 270.7,688.5 268.5,686.6 265.5,682.7ZM248.5,705.9 250.5,707.5 251.5,710.5 251.0,713.5 249.6,716.5 240.0,728.5 235.8,737.5 233.7,740.5 229.4,743.5 224.5,744.2 224.5,700.1 234.5,701.3ZM271.1,741.5 274.3,737.5 281.6,726.5 284.5,723.5 290.4,720.5 297.5,719.8 305.2,720.5 310.1,722.5 314.5,726.5 321.5,734.6 330.5,741.5 331.7,743.5 329.8,750.5 328.4,753.5 325.5,756.0 322.5,756.5 315.5,754.1 298.5,751.2 291.5,751.8 283.5,753.8 280.5,753.6 277.5,752.0 275.2,749.5 271.1,743.5ZM256.5,861.8 258.4,863.5 259.5,865.5 260.3,870.5 259.2,876.5 255.2,887.5 254.8,890.5 238.7,890.5 239.3,886.5 249.0,863.5 250.5,862.0 252.5,861.1 254.5,861.1Z"/>
<path fill="#de5f65" fill-rule="evenodd" d="M234.4,634.5 235.5,633.3 238.5,632.1 241.5,632.1 243.5,632.8 246.1,634.5 247.5,636.5 247.8,638.5 247.2,640.5 245.5,642.5 243.5,643.4 241.5,643.7 238.5,642.9 236.3,641.5 234.8,639.5 233.9,636.5ZM306.5,639.1 310.5,636.8 316.5,635.1 320.5,635.2 323.0,636.5 324.8,639.5 325.1,642.5 323.7,647.5 323.8,653.5 322.5,655.5 320.5,656.3 319.5,656.1 318.0,654.5 316.5,650.6 315.5,649.6 309.5,647.6 306.6,645.5 305.1,642.5 305.4,640.5ZM246.5,710.1 247.5,712.5 246.5,715.3 237.8,725.5 230.8,739.5 228.5,741.6 224.5,742.4 224.5,706.5 234.5,707.3 244.5,709.2ZM323.9,740.5 323.4,741.5 319.5,744.2 316.5,748.7 314.5,749.9 312.5,750.3 307.5,749.6 297.9,746.5 291.5,745.8 289.4,746.5 285.7,750.5 281.5,751.4 279.5,750.8 276.9,748.5 275.3,745.5 274.7,742.5 275.0,740.5 276.4,737.5 284.5,726.0 290.4,722.5 296.5,721.5 304.5,722.1 309.5,724.4 313.9,728.5 322.8,738.5ZM256.2,862.5 258.1,864.5 258.9,866.5 259.1,871.5 257.4,878.5 253.8,887.5 253.3,890.5 240.1,890.5 240.8,886.5 247.5,870.1 249.2,864.5 250.5,862.9 252.5,861.9 254.5,861.8Z"/>
<path fill="#d24f71" fill-rule="evenodd" d="M238.5,637.5 239.5,636.2 241.5,636.0 242.7,636.5 243.4,638.5 242.5,639.6 240.5,639.9 238.7,638.5ZM321.2,640.5 321.4,642.5 320.5,644.3 318.5,645.5 316.5,646.0 311.1,645.5 309.4,644.5 308.4,642.5 310.0,640.5 315.5,638.5 319.5,638.8ZM228.5,719.3 230.5,720.2 232.1,722.5 232.8,725.5 232.5,728.5 231.4,731.5 229.5,734.2 227.5,735.8 224.5,736.4 224.5,719.1ZM276.9,744.5 277.0,741.5 277.8,739.5 285.7,728.5 289.6,725.5 295.5,723.8 301.5,723.7 306.8,725.5 311.3,729.5 316.5,735.5 318.4,738.5 318.1,740.5 316.5,742.3 308.5,746.1 289.5,744.2 287.5,744.9 284.5,748.6 281.5,749.5 278.5,748.0ZM255.5,862.9 257.7,865.5 258.1,870.5 256.3,878.5 252.4,887.5 251.9,890.5 241.6,890.5 242.5,885.5 248.1,871.5 250.0,864.5 252.5,862.5Z"/>
<path fill="#c43e7f" fill-rule="evenodd" d="M314.4,738.5 313.9,740.5 309.5,743.2 306.5,744.1 286.5,743.1 285.5,743.6 283.5,746.9 281.5,747.8 279.5,746.9 278.4,744.5 279.3,741.5 281.5,739.3 288.5,730.1 292.5,727.3 296.5,726.0 301.5,726.1 305.5,727.7 308.5,730.5ZM254.5,863.2 256.4,864.5 257.4,867.5 257.1,870.5 254.5,880.7 250.9,887.5 250.2,890.5 243.4,890.5 244.2,884.5 249.4,871.5 250.2,865.5 251.9,863.5Z"/>
<path fill="#b52f8c" fill-rule="evenodd" d="M285.4,739.5 286.5,736.5 290.6,731.5 294.5,728.8 297.5,728.0 301.5,728.5 304.5,730.2 308.0,734.5 310.2,738.5 309.7,740.5 308.5,741.5 306.3,742.5 303.5,742.9 290.5,742.1 286.5,740.9ZM281.5,743.4 282.0,744.5 281.5,745.4 280.4,744.5ZM254.5,863.9 256.2,865.5 256.6,867.5 254.4,874.5 253.3,880.5 250.5,885.5 248.5,887.2 247.0,887.5 246.0,886.5 246.0,883.5 247.1,879.5 250.8,872.5 250.9,865.5 252.5,863.9Z"/>
<path fill="#a51f99" fill-rule="evenodd" d="M288.4,738.5 290.0,735.5 293.5,731.7 295.5,730.4 298.5,730.0 300.5,730.5 303.0,732.5 306.1,737.5 306.5,739.5 305.9,740.5 303.8,741.5 296.5,741.7 289.6,740.5 288.6,739.5ZM253.5,864.4 255.3,865.5 255.7,867.5 254.5,870.0 253.5,870.4 252.5,870.1 251.4,867.5 251.8,865.5ZM250.5,879.1 251.1,880.5 250.5,882.2 249.5,882.9 248.7,882.5 248.6,881.5 249.5,879.5Z"/>
<path fill="#920fa3" fill-rule="evenodd" d="M291.7,738.5 292.5,736.5 295.5,733.2 297.5,732.4 300.5,734.1 302.5,738.5 301.5,739.8 298.5,740.3 292.3,739.5ZM253.5,865.5 254.6,866.5 254.5,867.5 253.5,868.2 252.6,867.5 252.4,866.5Z"/>
</g>
<g id="coast" class="coast">
<path d="M262.5,121.3 269.2,121.6 277.3,122.4 284.0,122.7 288.0,122.9 288.7,126.7 290.0,130.1 288.0,132.7 285.3,134.7 282.6,136.8 278.6,138.8 274.6,140.8 270.6,142.8 266.5,144.8 264.3,145.7 264.5,143.9 267.9,142.8 271.2,140.8 275.3,138.8 277.3,136.8 279.9,135.8 282.6,134.1 284.0,132.1 286.0,130.1 284.0,128.0 281.3,127.4 279.9,125.4 275.9,124.7 271.9,123.8 267.9,124.0 265.2,123.4ZM327.5,137.4 329.5,134.1 334.9,134.7 340.2,135.8 345.6,136.3 350.3,138.1 352.6,139.8 351.0,141.4 347.6,140.4 342.9,138.1 338.9,137.4 334.9,138.5 332.9,139.4 330.2,138.1ZM373.1,162.9 374.0,158.6 376.4,160.2 379.1,161.8 382.5,160.9 385.4,159.5 385.1,161.8 381.8,163.1 377.8,163.6 374.4,163.1ZM390.5,155.1 393.8,154.2 398.1,155.1 398.9,158.2 401.2,159.1 405.2,158.9 410.6,159.5 413.9,162.2 418.0,163.1 422.0,164.0 423.6,166.2 422.7,168.5 419.3,169.6 416.6,168.9 416.0,166.2 412.6,165.6 410.6,164.0 405.9,164.2 401.9,163.6 399.2,162.6 395.2,160.2 391.2,158.9ZM332.9,172.9 336.9,170.7 340.2,171.6 342.3,173.3 338.9,174.9 334.9,176.3 332.9,175.2ZM298.0,193.0 300.0,189.7 304.1,187.7 308.1,185.9 312.1,185.7 314.8,184.1 317.5,186.7 320.8,188.1 324.8,187.3 328.9,185.4 332.2,181.9 335.6,179.6 336.5,182.3 336.2,185.7 333.5,189.0 330.9,192.4 328.2,195.0 322.8,195.7 317.5,196.1 312.1,196.8 306.7,196.6 302.1,196.4 299.4,197.5 298.4,195.0ZM225.0,206.2 230.4,207.8 235.7,209.1 239.7,211.1 243.8,213.8 248.5,216.5 253.1,219.8 257.8,222.1 260.1,223.2 263.9,222.1 267.9,221.6 271.2,223.2 273.5,225.9 272.6,228.3 269.9,230.2 267.9,231.9 262.5,231.2 255.8,232.3 249.1,232.8 242.4,233.6 235.7,234.6 230.4,235.5 225.0,237.9M338.6,231.9 342.9,231.0 347.6,230.6 352.3,231.9 356.3,233.6 358.3,235.0 353.6,235.0 348.3,233.9 342.9,233.2ZM455.5,238.4 450.1,237.7 446.1,237.3 442.1,239.1 438.1,240.4 432.7,239.7 426.0,238.4 419.3,238.1 412.6,239.1 408.6,241.1 405.9,243.8 407.9,246.4 404.6,247.5 400.5,247.8 396.5,246.4 392.5,246.7 388.5,246.2 383.1,245.1 379.1,244.8 375.1,246.2 373.7,243.8 369.7,241.8 364.4,240.0 359.0,238.4 353.6,237.3 348.3,236.8 342.9,237.1 337.6,237.3 332.2,237.7 326.8,238.1 321.5,239.5 316.1,241.1 312.8,243.1 311.4,245.8 312.4,248.5 315.5,250.2 320.1,250.7 324.8,249.1 329.5,249.4 334.2,250.5 338.9,251.8 342.9,253.4 346.9,255.2 350.3,256.9 353.6,257.8 353.9,259.6 351.0,260.9 351.6,263.2 349.6,265.2 351.0,267.6 349.0,269.9 351.6,271.2 350.3,273.2 347.6,273.9 349.0,275.9 352.3,277.5 355.7,280.2 359.0,282.9 362.4,285.6 365.7,286.9 369.1,288.0 372.4,289.1 374.4,290.9 373.5,293.3 371.1,294.7 367.0,294.4 363.0,294.0 359.0,294.7 355.7,297.4 352.3,299.0 348.3,299.0 343.6,298.4 338.9,298.0 334.2,297.6 329.5,298.0 324.8,297.1 320.1,296.7 315.5,296.3 310.8,295.4 305.4,294.7 301.4,295.4 298.7,294.4 294.7,294.0 290.0,293.3 285.3,292.7 280.6,291.3 276.6,289.6 271.9,289.1 267.2,289.1 262.5,290.0 258.5,290.7 256.1,293.3 254.7,298.0 256.5,301.1 259.2,303.0 263.9,304.1 268.6,305.1 272.6,306.5 276.6,308.1 279.9,309.7 282.6,311.8 285.3,314.1 288.0,315.9 292.0,315.5 290.4,312.8 293.3,310.1 296.7,307.8 300.7,306.7 305.4,306.5 310.8,306.1 316.1,305.4 318.8,307.0 324.2,307.8 329.5,308.8 334.9,309.2 340.2,309.7 345.6,310.5 351.0,309.7 356.3,308.8 361.7,307.8 367.0,307.4 372.4,307.0 377.8,306.7 383.1,306.7 388.5,307.0 392.5,307.4 396.5,308.8 400.5,310.8 403.9,312.8 407.2,315.1 410.6,317.5 412.6,320.1 411.9,323.5 410.6,326.2 415.3,326.8 419.3,328.2 422.7,330.9 425.3,332.2 428.0,329.5 430.7,326.2 434.0,322.8 437.4,319.5 440.7,316.1 443.4,312.8 445.4,308.8 446.8,305.4 449.5,304.7 452.8,305.4 455.5,303.4M320.1,277.9 323.5,276.6 328.2,277.3 333.5,278.6 338.9,280.6 343.6,282.4 346.9,284.6 348.0,286.9 345.6,288.0 341.6,286.9 336.9,285.6 332.2,284.0 327.5,282.4 323.5,280.6 320.8,279.3ZM389.6,291.3 391.8,290.0 393.8,292.7 395.9,294.9 398.1,296.7 395.9,297.4 393.2,295.4 390.9,293.3ZM403.0,294.7 407.2,295.4 410.6,293.3 415.3,294.7 420.0,296.7 421.7,298.0 419.3,299.8 414.6,299.4 410.6,298.0 406.6,296.7ZM296.7,293.3 301.4,292.7 305.4,292.7 304.1,294.4 300.0,294.9ZM455.0,238.4 459.0,240.0 463.0,241.8 468.4,243.1 473.8,244.4 478.5,243.1 481.8,244.4 485.8,247.1 489.8,249.1 495.2,249.8 499.9,249.1 503.2,247.5 507.3,247.8 510.6,249.8 512.0,253.1 513.3,256.5 516.0,259.8 519.3,262.5 523.3,263.9 528.7,263.2 534.1,262.5 539.4,262.5 544.8,262.3 547.5,260.9 549.5,261.2 548.8,263.2 552.6,263.9 550.1,265.9 547.5,267.9 542.1,267.6 536.7,267.2 531.4,266.8 526.0,267.2 524.7,271.2 530.0,271.9 535.4,271.6 539.4,272.6 544.1,273.9 548.8,274.8 552.8,274.6 556.8,275.9 560.9,275.7 564.9,274.6 569.6,275.7 574.3,277.3 578.3,279.3 582.3,282.0 586.3,284.6 590.3,286.9 595.0,289.3 598.7,290.9 597.0,294.7 594.4,298.7 591.7,302.1 587.0,301.6 583.4,301.4 582.3,304.7 581.0,307.8 578.3,308.4 574.9,307.0 572.9,304.1 570.2,301.6 566.9,300.0 562.2,299.4 556.8,299.8 551.5,298.7 547.5,298.0 543.4,298.4 539.4,299.0 535.4,299.4 531.4,298.7 527.4,298.4 524.7,300.0 522.0,298.0 516.6,297.6 511.3,297.4 507.3,298.4 503.2,300.0 499.9,303.4 496.5,306.7 491.2,307.0 485.8,307.0 480.5,307.4 476.4,308.4 473.8,307.4 472.4,304.1 472.2,300.0 468.4,298.7 464.4,299.4 463.0,301.6 459.0,302.5 455.0,304.3M573.6,309.2 575.6,308.1 580.3,308.9 584.3,310.8 585.0,311.8 580.3,311.7 575.6,311.0ZM658.0,301.6 663.4,299.6 664.1,296.2 668.8,295.6 674.1,296.2 679.5,296.6 684.8,296.9 690.2,296.5 695.6,296.9 700.9,297.2 706.3,296.6 711.6,296.9 717.0,297.6 722.4,298.0 727.7,297.6 733.1,298.0 738.4,298.9 743.8,300.3 749.8,300.9 750.2,304.3 752.1,307.0 749.8,307.9 746.5,309.0 742.5,311.4 739.8,314.1 737.1,315.9 733.1,317.0 729.1,317.7 725.0,318.3 721.0,319.0 717.0,318.3 713.0,318.6 709.0,318.1 704.9,317.0 700.9,317.3 696.9,317.7 692.9,317.3 688.9,317.0 684.8,316.7 682.2,318.1 676.8,318.6 671.4,318.1 666.1,318.3 662.1,319.0 661.0,316.3 662.7,313.7 663.4,310.3 663.1,307.0 661.4,304.3ZM752.9,311.6 757.2,310.6 762.6,309.9 767.9,310.0 770.3,311.0 765.2,312.3 759.9,313.2 755.2,313.2ZM790.4,329.1 792.0,326.4 797.4,325.7 804.1,326.4 809.7,326.4 805.4,328.0 800.1,329.1 794.7,329.7ZM904.5,342.2 906.8,340.2 910.8,340.9 914.1,343.6 916.1,346.2 918.4,347.6 917.5,348.9 914.8,346.9 911.4,345.6 907.4,344.5ZM959.7,328.8 961.7,327.5 965.0,328.8 968.0,331.5 968.8,335.1 966.4,335.5 963.0,333.8 960.8,332.2ZM958.6,353.6 961.0,351.2 964.4,350.3 967.7,351.6 971.5,353.6 971.7,356.0 969.1,357.4 965.0,357.9 961.0,357.0 959.0,355.6ZM939.6,368.3 941.6,364.6 943.6,365.0 945.3,368.3 944.7,371.0 942.0,370.8ZM964.4,385.8 967.1,383.4 970.4,383.8 974.4,385.8 977.8,387.8 977.1,391.8 978.4,395.8 975.8,399.2 971.1,400.8 967.7,398.5 965.7,393.8 964.8,389.8ZM977.8,387.8 979.5,385.1 979.1,381.1 981.8,377.7 984.5,377.5 987.2,380.4 986.5,383.8 989.8,385.1 993.9,386.4 999.9,387.8 995.9,388.4 989.2,389.1 983.8,390.1 979.8,389.5ZM990.5,401.2 992.5,398.5 995.9,398.1 998.5,400.2 997.9,403.2 994.5,404.3 991.6,403.2ZM982.2,416.6 983.8,413.6 987.8,413.9 991.8,415.9 994.5,419.3 995.9,423.3 995.2,428.0 992.5,430.3 989.2,431.3 987.2,428.0 985.1,424.0 983.1,419.9ZM996.1,446.8 999.2,444.4 1003.9,444.8 1008.6,446.8 1012.6,449.2 1016.0,448.4 1015.3,451.5 1017.3,454.2 1019.3,457.5 1019.7,461.5 1017.3,464.2 1014.6,463.6 1012.6,460.9 1009.3,460.2 1006.6,461.8 1004.2,460.2 1005.2,458.2 1007.9,456.2 1003.9,454.6 1000.6,452.2 997.9,449.5ZM1005.0,485.7 1006.6,482.3 1009.3,479.0 1012.6,475.6 1015.3,477.6 1016.4,483.0 1016.0,488.3 1014.0,491.0 1011.7,492.6 1007.9,490.4 1005.5,488.3ZM993.2,512.5 995.2,508.4 997.9,505.8 1001.2,505.5 1003.0,509.1 1002.3,513.8 999.9,516.5 996.9,515.8 994.5,514.5ZM1084.6,510.5 1086.3,507.4 1089.0,509.1 1091.7,512.5 1095.0,514.5 1098.4,515.1 1095.7,517.8 1091.7,519.8 1087.7,518.5 1085.4,514.5ZM964.5,561.5 968.0,556.0 972.0,553.0 975.5,554.0 976.0,559.0 973.0,562.5 968.5,563.0ZM225.0,605.0 230.4,601.0 233.3,598.6 235.1,599.9 237.7,603.4 235.7,600.4 239.7,601.0 246.4,602.6 252.5,603.7 258.5,603.7 265.2,603.0 267.6,600.4 267.2,596.3 268.6,593.0 271.2,590.3 275.3,589.0 279.3,588.7 284.0,590.0 289.3,591.4 294.7,592.2 300.0,592.4 305.4,592.4 310.8,592.3 316.1,591.9 321.5,591.2 325.5,589.6 328.9,587.0 332.2,585.6 336.2,583.3 340.2,581.2 344.3,578.9 348.3,576.6 353.0,574.9 357.7,573.1 363.0,571.8 368.4,570.2 373.7,568.2 378.4,565.5 381.8,562.2 384.5,558.1 385.1,554.8 383.1,553.5 385.8,552.1 391.2,551.4 394.5,551.2 393.2,554.8 395.9,555.7 399.9,554.4 401.6,552.1 398.5,550.1 402.6,547.2 406.6,546.1 410.6,543.4 415.3,543.4 420.6,544.1 426.0,545.8 431.4,547.4 436.1,550.1 439.4,554.1 442.1,556.8 443.4,559.5 441.4,562.2 436.7,564.2 432.7,566.2 430.0,569.5 426.7,572.2 422.0,573.6 416.6,574.2 411.3,574.9 405.9,575.8 400.5,576.9 396.5,578.2 394.9,581.6 395.5,585.6 397.2,590.3 399.9,594.3 403.2,597.7 407.2,600.8 411.3,602.4 415.3,603.4 410.6,603.0 405.9,603.0 409.3,605.0 410.6,608.4 412.6,611.7 415.3,615.1 414.6,619.1 413.3,622.5 414.6,625.1 411.3,627.2 407.2,629.8 403.2,633.2 399.2,636.5 395.2,639.9 392.5,643.9 389.8,647.9 385.8,651.9M252.5,604.0 256.5,614.2 260.1,613.8 265.2,603.4M441.4,649.3 438.1,644.6 434.7,639.9 432.0,635.9 428.7,631.8 424.7,627.8 422.0,623.8 418.6,619.5 421.3,619.1 418.0,615.8 416.0,611.7 420.0,611.5 423.3,611.1 424.7,607.7 426.0,606.4 422.0,605.0 427.3,604.4 434.0,603.4 439.4,602.1 444.8,600.4 450.1,598.3 455.5,596.3 460.8,594.6 464.9,593.7M386.2,650.7 388.5,654.5 391.5,658.2 394.5,660.5 393.0,663.5 397.5,665.7 400.5,668.0 405.0,668.7 408.0,670.2 406.5,674.0 404.2,676.2 407.2,678.5 408.0,681.5 414.0,683.0 420.0,682.7 427.5,681.5 433.5,680.0 438.0,677.7 442.5,674.7 445.5,671.7 444.7,665.0 446.2,659.0 447.3,655.2 445.5,650.0 441.4,649.2M286.8,680.0 288.7,677.0 291.0,674.7 293.2,675.8 294.0,679.2 295.5,682.2 292.5,683.3 289.5,683.0 287.2,682.2ZM464.9,593.7 471.1,593.0 476.4,592.3 479.8,591.0 484.5,590.0 489.2,589.0 493.9,588.3 496.5,586.3 495.9,583.9 499.2,584.3 502.6,582.9 500.6,581.6 497.6,580.7 501.2,580.9 505.3,582.3 508.6,583.6 511.3,585.2 515.3,585.6 518.7,584.3 520.7,582.3 519.3,579.6 518.0,576.2 516.9,574.5 512.6,574.9 507.9,575.8 503.2,576.2 497.9,577.2 492.5,578.0 491.9,575.3 493.2,572.6 491.2,570.9 490.1,568.9 488.2,566.9 489.8,563.5 491.9,560.2 493.2,557.9 497.2,556.8 501.2,554.8 505.3,554.1 508.6,554.8 511.3,556.8 514.0,560.2 516.0,563.5 516.9,567.5 517.7,571.5 519.1,575.6 520.9,578.9 523.3,581.6 526.0,583.6 528.4,584.3 531.4,582.5 535.4,582.3 539.4,582.9 542.8,582.0 546.1,580.9 550.1,581.6 554.2,582.5 558.2,584.3 563.5,584.7 568.9,584.3 571.6,585.6 574.9,587.6 579.0,588.7 583.0,591.0 587.0,593.0 590.3,595.0 594.4,595.9 596.4,599.0 599.1,602.4 601.7,605.0 597.0,606.1 603.1,606.6 604.8,608.8 601.7,610.1 599.1,610.4 599.7,613.8 601.7,617.1 604.4,619.8 607.8,622.5 611.8,623.8 615.8,623.8 620.5,624.9 625.9,625.4 630.5,623.8 637.2,623.1 642.6,622.5 648.0,621.8 653.3,621.4 658.7,620.9 664.0,620.1 669.4,619.1 674.8,618.7 680.1,618.4 685.5,618.2 690.8,617.9 694.9,617.8M501.5,537.4 503.2,536.4 506.6,539.1 509.9,541.4 512.4,543.4 512.9,545.3 509.9,544.5 506.6,542.7 503.5,540.5 501.9,539.1ZM552.2,546.8 554.8,545.8 557.5,548.1 558.9,551.4 562.2,553.9 566.9,554.8 570.9,555.7 573.6,558.1 576.3,560.2 572.9,560.8 568.9,559.7 564.2,557.5 560.2,555.5 556.2,553.5 553.5,550.8ZM593.7,551.4 595.7,549.2 599.1,550.1 602.4,552.1 606.2,552.8 606.7,556.1 605.1,560.2 603.1,561.5 601.3,558.8 601.7,555.5 599.1,554.1 595.7,553.5ZM624.5,637.2 626.5,634.8 631.9,633.5 636.6,633.9 639.7,636.5 638.6,639.2 634.6,639.9 629.2,640.2 625.2,639.6ZM666.5,649.3 669.4,648.6 673.4,649.5 676.8,650.6 676.1,653.0 672.8,654.0 670.1,651.9 667.4,650.9ZM694.8,617.8 703.4,617.9 707.4,618.3 710.1,619.2 712.8,617.6 716.1,617.4 719.5,619.0 723.5,619.6 726.4,620.3 725.5,621.9 722.8,621.9 724.2,625.0 727.5,627.7 731.5,630.4 736.2,633.0 741.6,634.4 747.6,635.7 754.3,637.5 761.0,638.8 767.7,639.9 774.4,640.8 781.8,641.7 786.5,640.4 791.8,640.7 797.2,640.4 800.6,639.1 801.2,636.4 803.9,635.7 806.6,633.7 810.6,633.4 814.6,633.0 816.6,631.0 819.3,630.4 822.0,627.7 825.3,627.0 829.4,625.9 832.0,624.1 835.4,624.1 837.4,625.7 842.8,626.3 848.1,625.9 853.5,625.7 857.5,625.0 861.5,624.1 857.5,623.0 852.8,621.9 847.5,621.0 842.1,620.3 836.7,620.6 832.0,621.4 828.0,623.0 824.7,618.3 828.0,617.4 833.4,618.3 838.7,617.4 844.1,618.3 849.5,617.6 852.1,615.2 854.2,617.0 858.8,617.6 864.2,618.3 868.9,618.3 870.2,617.0 875.6,615.6 880.3,616.3 884.3,615.6 888.3,614.3 892.3,614.9 897.7,614.7 901.7,615.2 907.1,614.3 913.1,612.9 917.8,613.6 923.2,613.9 929.9,614.3M818.4,604.2 820.0,600.9 824.7,599.9 830.0,599.5 830.7,602.2 834.1,603.6 838.7,603.1 840.8,599.5 844.1,597.5 847.9,595.5 850.8,598.9 853.8,602.9 850.8,605.3 847.5,606.9 842.8,607.2 838.1,608.9 834.1,606.2 830.7,604.9 826.7,605.6 822.0,604.9ZM761.7,606.2 764.4,604.2 768.4,603.6 772.4,604.9 774.4,606.9 770.4,608.0 765.7,608.0 763.0,607.2ZM929.9,614.3 938.9,614.7 945.6,614.9 952.3,614.7 957.6,613.9 961.6,613.6 959.6,615.6 954.9,617.4 949.6,617.9 944.2,617.9 938.9,619.0 934.8,621.9 929.5,621.6 924.1,621.0 918.8,620.6 913.4,621.0 908.0,621.6 903.4,622.3 906.0,625.0 906.7,627.7 903.4,629.0 906.7,628.1 910.7,627.0 913.4,629.7 915.4,633.0 917.4,636.4 918.8,640.1 919.4,637.1 921.4,635.0 924.8,637.1 927.5,641.1 928.8,645.1 930.8,647.1 933.5,649.5 935.1,651.8 936.4,648.4 938.9,645.8 942.9,644.2 946.9,644.4 950.9,645.8 954.9,647.8 959.0,650.5 962.3,652.5 963.0,653.8 965.0,651.8 969.7,651.8 974.4,652.2 977.7,653.8 979.7,655.4 976.4,652.5 973.0,649.8 972.4,648.2 976.4,649.1 980.4,651.1 983.8,653.8 985.8,655.4 991.1,657.2 996.5,659.4 1001.8,661.2 1007.2,662.1 1011.2,664.5 1011.9,667.2 1013.9,665.9 1017.9,667.9 1020.6,669.9 1021.3,672.6 1018.6,674.6 1015.2,675.9 1011.2,677.3 1009.2,678.2 1013.9,677.7 1017.9,677.9 1018.6,680.6 1015.2,681.7 1017.3,684.0 1013.9,684.9 1016.6,686.6 1019.3,688.6 1017.9,692.0M935.1,654.5 932.8,655.8 931.5,659.2 928.8,661.8 927.5,664.5 928.8,667.2 931.5,669.9 933.5,673.2 935.5,676.6 934.2,679.3 937.5,680.6 941.5,682.6 946.2,681.3 942.9,677.9 940.2,673.9 937.5,673.2 935.5,675.2 940.2,677.9 945.6,680.6 950.3,683.3 950.9,686.6 950.3,690.0 953.6,689.7 952.3,692.7M971.7,614.9 976.4,613.6 983.1,612.5 989.8,611.2 996.5,610.9 1003.2,610.3 1009.9,609.6 1014.6,609.8 1013.2,612.3 1010.6,614.9 1007.9,617.6 1007.2,621.6 1007.9,625.7 1009.2,629.7 1011.2,630.8 1008.8,632.4 1009.9,635.7 1009.2,638.4 1005.9,639.7 1000.5,641.1 993.8,641.5 987.1,641.5 980.4,641.2 973.7,641.1 967.0,641.1 961.0,641.5 957.6,642.0 959.0,640.1 964.3,638.8 969.7,637.1 973.0,635.0 977.7,634.0 981.7,633.0 983.4,630.4 981.7,627.0 982.4,623.0 981.7,619.0 978.4,617.0 974.4,616.3ZM1017.7,596.9 1019.9,594.2 1024.0,591.9 1028.6,590.2 1033.3,589.2 1036.4,588.8 1036.7,591.5 1034.0,593.5 1029.3,595.1 1024.6,596.4 1020.6,597.8ZM1017.9,692.1 1019.9,694.7 1021.3,697.4 1017.9,699.4 1016.6,701.4 1020.6,701.2 1024.6,702.1 1028.6,703.5 1034.0,704.1 1039.4,704.8 1040.7,702.8 1042.7,700.4 1047.4,699.4 1052.8,700.1 1058.1,701.4 1063.5,703.5 1068.8,706.1 1072.9,708.8 1075.5,711.1 1078.9,712.2 1076.2,709.5 1079.6,710.6 1082.9,712.8 1080.2,713.5 1084.9,713.5 1090.3,715.5 1095.6,717.8 1101.0,719.9 1106.4,722.2 1111.7,724.9 1117.1,728.0 1121.8,731.6 1126.5,735.2 1130.5,738.7 1134.5,741.6 1139.9,743.0M973.0,700.4 967.0,700.1 960.3,699.8 953.6,700.1 949.6,698.8 946.2,700.1 941.5,701.2 936.2,702.1 930.8,703.9 925.5,705.5 920.1,707.5 915.4,709.7 910.7,711.9 906.0,714.2 900.0,715.5M973.0,701.7 967.0,702.1 961.6,703.0 956.3,704.1 951.6,704.1 948.2,702.1 944.2,702.5 939.5,703.5 934.2,704.8 928.8,706.1 923.5,708.4 918.8,710.6 913.4,712.6 907.4,714.6 901.3,716.7M952.3,692.7 950.3,695.4 946.2,698.1 942.9,700.1M952.9,685.4 954.3,689.4 951.6,692.1M978.4,703.5 983.1,702.1 989.8,701.7 996.5,702.1 1000.5,703.5 1005.9,702.1 1009.2,702.8 1007.2,704.8 1001.8,705.5 996.5,706.5 991.1,706.1 985.8,705.5 981.1,704.8ZM999.2,698.1 1005.9,696.8 1013.9,695.8 1012.6,698.1 1007.2,699.4 1001.8,699.4ZM894.0,741.0 898.5,736.5 903.0,739.5 909.0,736.5 915.0,738.6 913.5,745.5 909.0,747.0 912.0,751.5 907.5,756.0 904.5,763.5 906.0,772.5 900.0,774.0 897.0,766.5 901.5,759.0 903.0,751.5 898.5,747.0 895.5,744.0ZM648.0,799.5 657.0,793.5 666.0,787.5 669.0,777.0 667.5,766.5 672.0,762.0 684.0,757.5 696.0,753.0 705.0,747.0 717.0,741.0 732.0,738.0 744.0,732.0 756.0,729.6 765.0,730.5 783.0,733.5 793.5,740.4 804.0,738.0 810.0,732.0 814.5,726.0 825.0,723.0 834.0,726.0 843.0,727.5 855.0,721.5 867.0,718.5 879.0,715.5 891.0,714.0 901.0,715.5M648.6,801.2 657.6,795.2 666.6,789.2 669.6,778.7 668.1,768.2 672.6,763.7 684.6,759.2 696.6,754.7 705.6,748.7 717.6,742.7 732.6,739.7 744.6,733.7 756.6,731.3 765.6,732.2 783.6,735.2 794.1,742.1 804.6,739.7 810.6,733.7 815.1,727.7 825.6,724.7 834.6,727.7 843.6,729.2 855.6,723.2 867.6,720.2 879.6,717.2 891.6,715.7 901.6,717.2M1138.4,743.4 1143.1,747.4 1147.1,750.8 1150.2,754.1 1150.7,758.8 1150.5,762.8 1149.1,766.9 1146.4,769.5 1144.4,773.6 1143.1,778.2 1142.2,783.6 1142.7,789.0 1139.7,791.0 1138.4,792.3 1141.8,791.6 1143.8,794.3 1144.8,789.6 1144.4,784.9 1146.4,780.3 1149.1,776.2 1152.5,773.1 1157.2,771.5 1161.9,771.8 1165.2,773.1 1167.2,774.9 1165.9,778.2 1166.3,781.6 1167.2,777.6 1167.9,774.2 1171.9,773.6 1176.6,775.3 1181.3,778.0 1186.0,780.9 1190.7,783.9 1195.4,787.0 1199.4,790.3 1202.7,794.1 1204.3,797.7 1203.4,799.9 1198.7,801.0 1204.1,799.7 1205.4,794.3 1209.4,795.4 1214.1,797.7 1218.8,800.8 1222.8,803.7 1224.8,807.7 1225.5,814.4 1228.2,812.4 1230.9,809.7 1234.2,808.0 1240.2,808.4 1246.9,809.1 1253.6,809.7 1260.3,810.1 1267.0,811.5 1273.7,812.8 1280.4,814.2 1287.1,815.5 1292.5,816.4 1295.9,817.1 1296.8,819.5 1294.9,821.8 1296.5,818.4 1295.2,815.8 1291.2,811.7 1293.8,810.4 1299.2,809.7 1304.6,808.4 1309.9,807.7 1315.3,808.0 1320.6,808.4 1326.0,809.7 1331.4,811.1 1336.1,811.7 1340.7,811.7 1344.1,813.4 1339.4,813.8 1336.7,816.4 1340.1,819.5 1337.4,816.8 1339.4,813.8 1336.7,810.4 1338.1,808.4 1343.4,807.5 1348.8,807.5 1354.1,808.0 1359.5,808.8 1364.9,809.7M1296.5,814.2 1302.6,814.2M1364.9,809.7 1370.1,810.7 1375.5,810.3 1380.8,810.9 1387.5,812.0 1394.2,813.3 1399.6,814.7 1402.0,816.3 1400.9,819.6 1399.3,823.0 1401.6,822.7 1403.6,819.0 1405.6,817.6 1409.6,817.9 1413.0,819.0 1414.3,821.9 1415.0,819.0 1419.7,820.6 1423.0,822.3 1427.7,824.3 1433.1,825.9 1438.4,827.3 1443.8,829.0 1445.1,830.4 1446.5,829.7 1451.2,832.4 1452.1,833.4 1453.9,832.4 1458.5,833.0 1463.2,834.4 1463.9,835.7 1465.9,835.3 1469.3,836.6 1473.3,839.3 1478.0,841.1 1474.0,843.1 1476.0,842.0 1479.3,841.7 1482.7,844.4 1486.0,847.8 1488.0,849.8 1490.0,850.1 1492.7,852.5 1490.0,855.1 1494.1,851.8 1497.4,851.1 1495.4,856.5 1498.7,853.8 1500.8,855.8 1502.8,859.8 1504.8,861.2 1500.8,864.5 1504.1,861.8 1508.1,863.9 1512.1,866.5 1516.2,869.2 1517.2,873.9 1516.2,869.9 1519.5,866.5 1523.5,867.2 1527.6,869.9 1529.6,873.9 1530.2,876.6 1532.2,879.3 1535.6,881.9 1532.9,886.6 1536.9,881.3 1538.9,884.0 1537.6,877.9 1538.3,873.2 1541.0,871.5 1545.0,873.2 1549.7,876.6 1553.7,879.9 1557.0,883.3 1559.3,886.6 1560.1,890.7M1327.0,866.0 1330.0,858.0 1336.0,852.0 1340.0,849.0 1347.0,850.0 1350.0,853.0 1354.0,851.0 1357.0,854.0 1356.0,860.0 1352.0,863.0 1354.0,868.0 1348.0,870.0 1343.0,867.0 1338.0,871.0 1333.0,868.0 1329.0,870.0ZM649.5,680.0 652.0,677.5 654.5,679.5 654.0,684.0 651.0,686.0 649.0,684.0Z"/>
</g>
<g stroke="#808080" stroke-width="1.39" stroke-dasharray="1.39 1.39" fill="none" opacity="0.85">
<line x1="505.12" y1="890" x2="505.12" y2="120"/>
<line x1="785.24" y1="890" x2="785.24" y2="120"/>
<line x1="225" y1="234.68" x2="1620" y2="234.68"/>
<line x1="225" y1="644.26" x2="1620" y2="644.26"/>
</g>
<g stroke="#008000" stroke-width="4.17" stroke-dasharray="4.17 4.17" fill="none">
<line x1="1097.86" y1="890.5" x2="1097.86" y2="120"/>
<line x1="1233.43" y1="890.5" x2="1233.43" y2="120"/>
<line x1="225" y1="514.83" x2="1620" y2="514.83"/>
</g>
<g id="logo">
<rect x="1508.2" y="120" width="112" height="81.7" fill="#00508f"/>
<rect x="1549.3" y="134.8" width="30.1" height="22.1" rx="2.3" ry="2.3" fill="#ffffff"/>
<clipPath id="globe"><ellipse cx="1564.5" cy="146" rx="10.5" ry="7.9"/></clipPath>
<path clip-path="url(#globe)" d="M1566.6 136 Q1563.6 146 1566.8 156 L1550 158 L1550 134 Z" fill="#00508f"/>
<ellipse cx="1564.5" cy="146" rx="10.3" ry="7.7" fill="none" stroke="#00508f" stroke-width="0.75"/>
<path d="M1566.3 134.8 Q1563.7 146 1566.8 157" fill="none" stroke="#00508f" stroke-width="0.9"/>
<path d="M1570.6 141.6 L1572.2 139.6 L1574 140.8 L1573.6 141.8 Z" fill="#00508f"/>
<g style="font-family:'DejaVu Sans','Liberation Sans',sans-serif;font-weight:bold;font-size:12.9px" fill="#fff" stroke="#fff" stroke-width="0.55" stroke-linejoin="round">
<text x="1528.8" y="173.0" textLength="71.4" lengthAdjust="spacingAndGlyphs" style="fill:#fff">METEO</text>
<text x="1528.8" y="186.1" textLength="71.4" lengthAdjust="spacingAndGlyphs" style="fill:#fff">FRANCE</text>
</g>
</g>
</g>
<rect x="225.5" y="120.5" width="1395" height="770" fill="none" stroke="#000" stroke-width="1.1"/>
<text class="t12" x="210.3" y="237.9" text-anchor="end">20°N</text>
<text class="t12" x="210.3" y="519.0" text-anchor="end">13.16°N</text>
<text class="t12" x="211.3" y="648.2" text-anchor="end">10°N</text>
<text class="t12" x="505.7" y="912" text-anchor="middle">70°W</text>
<text class="t12" x="785.8" y="912" text-anchor="middle">65°W</text>
<text class="t12" x="1098.5" y="912" text-anchor="middle">59.42°W</text>
<text class="t12" x="1234.0" y="912" text-anchor="middle">57°W</text>
<g id="cbar">
<polygon points="1656.0,273.5 1665.0,250.5 1674.0,273.5" fill="#0d0887"/>
<polygon points="1656.0,727.1 1665.0,749.8 1674.0,727.1" fill="#f0f921"/>
<rect x="1656.0" y="702.17" width="18.0" height="25.63" fill="#f4ed27"/>
<rect x="1656.0" y="676.93" width="18.0" height="25.63" fill="#fbd524"/>
<rect x="1656.0" y="651.70" width="18.0" height="25.63" fill="#febe2a"/>
<rect x="1656.0" y="626.47" width="18.0" height="25.63" fill="#fca934"/>
<rect x="1656.0" y="601.23" width="18.0" height="25.63" fill="#f89441"/>
<rect x="1656.0" y="576.00" width="18.0" height="25.63" fill="#f1814d"/>
<rect x="1656.0" y="550.77" width="18.0" height="25.63" fill="#e87059"/>
<rect x="1656.0" y="525.53" width="18.0" height="25.63" fill="#de5f65"/>
<rect x="1656.0" y="500.30" width="18.0" height="25.63" fill="#d24f71"/>
<rect x="1656.0" y="475.07" width="18.0" height="25.63" fill="#c43e7f"/>
<rect x="1656.0" y="449.83" width="18.0" height="25.63" fill="#b52f8c"/>
<rect x="1656.0" y="424.60" width="18.0" height="25.63" fill="#a51f99"/>
<rect x="1656.0" y="399.37" width="18.0" height="25.63" fill="#920fa3"/>
<rect x="1656.0" y="374.13" width="18.0" height="25.63" fill="#7d03a8"/>
<rect x="1656.0" y="348.90" width="18.0" height="25.63" fill="#6700a8"/>
<rect x="1656.0" y="323.67" width="18.0" height="25.63" fill="#5102a3"/>
<rect x="1656.0" y="298.43" width="18.0" height="25.63" fill="#3a049a"/>
<rect x="1656.0" y="273.20" width="18.0" height="25.63" fill="#20068f"/>
<polygon points="1656.0,273.2 1665.0,250.5 1674.0,273.2 1674.0,727.4 1665.0,749.8 1656.0,727.4" fill="none" stroke="#222" stroke-width="1.1" stroke-linejoin="miter"/>
<line x1="1674.3" y1="727.40" x2="1679.3" y2="727.40" stroke="#000" stroke-width="1.1"/>
<text class="t10" x="1684.0" y="732.60">100</text>
<line x1="1674.3" y1="702.17" x2="1679.3" y2="702.17" stroke="#000" stroke-width="1.1"/>
<text class="t10" x="1684.0" y="707.37">200</text>
<line x1="1674.3" y1="676.93" x2="1679.3" y2="676.93" stroke="#000" stroke-width="1.1"/>
<text class="t10" x="1684.0" y="682.13">300</text>
<line x1="1674.3" y1="651.70" x2="1679.3" y2="651.70" stroke="#000" stroke-width="1.1"/>
<text class="t10" x="1684.0" y="656.90">400</text>
<line x1="1674.3" y1="626.47" x2="1679.3" y2="626.47" stroke="#000" stroke-width="1.1"/>
<text class="t10" x="1684.0" y="631.67">500</text>
<line x1="1674.3" y1="601.23" x2="1679.3" y2="601.23" stroke="#000" stroke-width="1.1"/>
<text class="t10" x="1684.0" y="606.43">600</text>
<line x1="1674.3" y1="576.00" x2="1679.3" y2="576.00" stroke="#000" stroke-width="1.1"/>
<text class="t10" x="1684.0" y="581.20">700</text>
<line x1="1674.3" y1="550.77" x2="1679.3" y2="550.77" stroke="#000" stroke-width="1.1"/>
<text class="t10" x="1684.0" y="555.97">800</text>
<line x1="1674.3" y1="525.53" x2="1679.3" y2="525.53" stroke="#000" stroke-width="1.1"/>
<text class="t10" x="1684.0" y="530.73">900</text>
<line x1="1674.3" y1="500.30" x2="1679.3" y2="500.30" stroke="#000" stroke-width="1.1"/>
<text class="t10" x="1684.0" y="505.50">1000</text>
<line x1="1674.3" y1="475.07" x2="1679.3" y2="475.07" stroke="#000" stroke-width="1.1"/>
<text class="t10" x="1684.0" y="480.27">1100</text>
<line x1="1674.3" y1="449.83" x2="1679.3" y2="449.83" stroke="#000" stroke-width="1.1"/>
<text class="t10" x="1684.0" y="455.03">1200</text>
<line x1="1674.3" y1="424.60" x2="1679.3" y2="424.60" stroke="#000" stroke-width="1.1"/>
<text class="t10" x="1684.0" y="429.80">1300</text>
<line x1="1674.3" y1="399.37" x2="1679.3" y2="399.37" stroke="#000" stroke-width="1.1"/>
<text class="t10" x="1684.0" y="404.57">1400</text>
<line x1="1674.3" y1="374.13" x2="1679.3" y2="374.13" stroke="#000" stroke-width="1.1"/>
<text class="t10" x="1684.0" y="379.33">1500</text>
<line x1="1674.3" y1="348.90" x2="1679.3" y2="348.90" stroke="#000" stroke-width="1.1"/>
<text class="t10" x="1684.0" y="354.10">1600</text>
<line x1="1674.3" y1="323.67" x2="1679.3" y2="323.67" stroke="#000" stroke-width="1.1"/>
<text class="t10" x="1684.0" y="328.87">1700</text>
<line x1="1674.3" y1="298.43" x2="1679.3" y2="298.43" stroke="#000" stroke-width="1.1"/>
<text class="t10" x="1684.0" y="303.63">1800</text>
<line x1="1674.3" y1="273.20" x2="1679.3" y2="273.20" stroke="#000" stroke-width="1.1"/>
<text class="t10" x="1684.0" y="278.40">1900</text>
</g>
</svg>
</body></html>
